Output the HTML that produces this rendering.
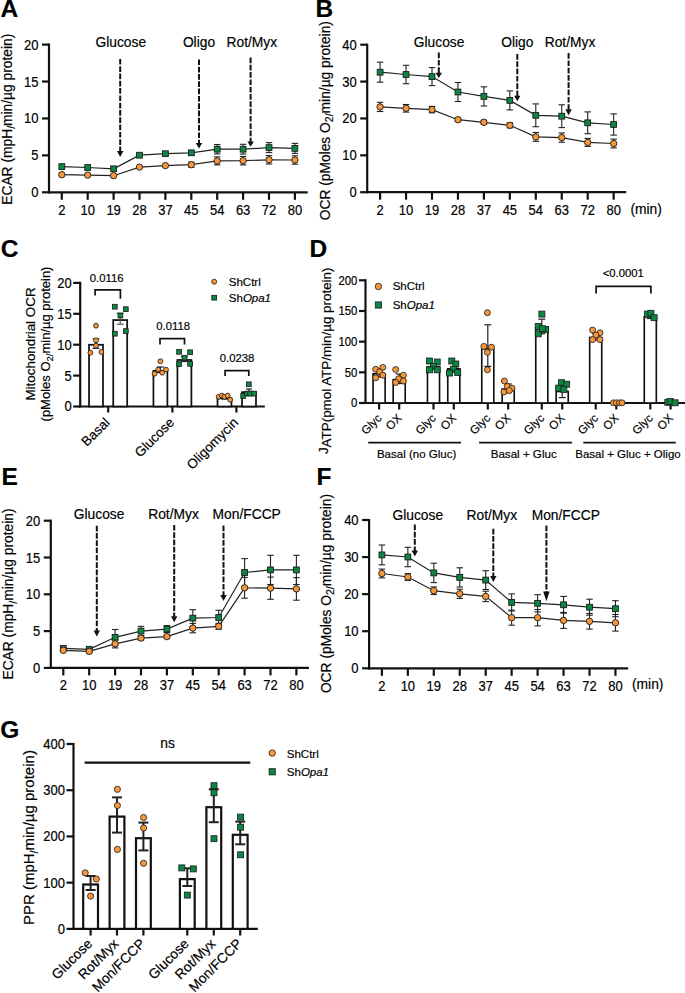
<!DOCTYPE html>
<html><head><meta charset="utf-8"><style>
html,body{margin:0;padding:0;background:#fff;width:685px;height:993px;overflow:hidden}
svg{display:block}
text{font-family:"Liberation Sans", sans-serif;fill:#000;stroke:#000;stroke-width:0.18px}
</style></head><body>
<svg width="685" height="993" viewBox="0 0 685 993">
<rect width="685" height="993" fill="#fff"/>
<text x="0.50" y="17.10" font-size="24.5" text-anchor="start" font-weight="bold">A</text>
<line x1="49.00" y1="43.60" x2="49.00" y2="193.30" stroke="#111" stroke-width="2.2" stroke-linecap="butt"/>
<line x1="42.00" y1="44.60" x2="49.00" y2="44.60" stroke="#111" stroke-width="2.2" stroke-linecap="butt"/>
<text transform="translate(38.50,49.60) scale(1,1.08)" font-size="13" text-anchor="end">20</text>
<line x1="42.00" y1="81.53" x2="49.00" y2="81.53" stroke="#111" stroke-width="2.2" stroke-linecap="butt"/>
<text transform="translate(38.50,86.53) scale(1,1.08)" font-size="13" text-anchor="end">15</text>
<line x1="42.00" y1="118.45" x2="49.00" y2="118.45" stroke="#111" stroke-width="2.2" stroke-linecap="butt"/>
<text transform="translate(38.50,123.45) scale(1,1.08)" font-size="13" text-anchor="end">10</text>
<line x1="42.00" y1="155.38" x2="49.00" y2="155.38" stroke="#111" stroke-width="2.2" stroke-linecap="butt"/>
<text transform="translate(38.50,160.38) scale(1,1.08)" font-size="13" text-anchor="end">5</text>
<line x1="42.00" y1="192.30" x2="49.00" y2="192.30" stroke="#111" stroke-width="2.2" stroke-linecap="butt"/>
<text transform="translate(38.50,197.30) scale(1,1.08)" font-size="13" text-anchor="end">0</text>
<line x1="48.00" y1="192.30" x2="307.70" y2="192.30" stroke="#111" stroke-width="2.2" stroke-linecap="butt"/>
<line x1="61.80" y1="192.30" x2="61.80" y2="199.80" stroke="#111" stroke-width="2.2" stroke-linecap="butt"/>
<text transform="translate(61.80,215.00) scale(1,1.08)" font-size="13" text-anchor="middle">2</text>
<line x1="87.70" y1="192.30" x2="87.70" y2="199.80" stroke="#111" stroke-width="2.2" stroke-linecap="butt"/>
<text transform="translate(87.70,215.00) scale(1,1.08)" font-size="13" text-anchor="middle">10</text>
<line x1="113.60" y1="192.30" x2="113.60" y2="199.80" stroke="#111" stroke-width="2.2" stroke-linecap="butt"/>
<text transform="translate(113.60,215.00) scale(1,1.08)" font-size="13" text-anchor="middle">19</text>
<line x1="139.50" y1="192.30" x2="139.50" y2="199.80" stroke="#111" stroke-width="2.2" stroke-linecap="butt"/>
<text transform="translate(139.50,215.00) scale(1,1.08)" font-size="13" text-anchor="middle">28</text>
<line x1="165.40" y1="192.30" x2="165.40" y2="199.80" stroke="#111" stroke-width="2.2" stroke-linecap="butt"/>
<text transform="translate(165.40,215.00) scale(1,1.08)" font-size="13" text-anchor="middle">37</text>
<line x1="191.30" y1="192.30" x2="191.30" y2="199.80" stroke="#111" stroke-width="2.2" stroke-linecap="butt"/>
<text transform="translate(191.30,215.00) scale(1,1.08)" font-size="13" text-anchor="middle">45</text>
<line x1="217.20" y1="192.30" x2="217.20" y2="199.80" stroke="#111" stroke-width="2.2" stroke-linecap="butt"/>
<text transform="translate(217.20,215.00) scale(1,1.08)" font-size="13" text-anchor="middle">54</text>
<line x1="243.10" y1="192.30" x2="243.10" y2="199.80" stroke="#111" stroke-width="2.2" stroke-linecap="butt"/>
<text transform="translate(243.10,215.00) scale(1,1.08)" font-size="13" text-anchor="middle">63</text>
<line x1="269.00" y1="192.30" x2="269.00" y2="199.80" stroke="#111" stroke-width="2.2" stroke-linecap="butt"/>
<text transform="translate(269.00,215.00) scale(1,1.08)" font-size="13" text-anchor="middle">72</text>
<line x1="294.90" y1="192.30" x2="294.90" y2="199.80" stroke="#111" stroke-width="2.2" stroke-linecap="butt"/>
<text transform="translate(294.90,215.00) scale(1,1.08)" font-size="13" text-anchor="middle">80</text>
<line x1="120.20" y1="58.90" x2="120.20" y2="151.50" stroke="#111" stroke-width="2" stroke-linecap="butt" stroke-dasharray="5.7 1.6"/>
<polygon points="117.00,151.00 123.40,151.00 120.20,157.00" fill="#111"/>
<line x1="199.00" y1="59.40" x2="199.00" y2="143.60" stroke="#111" stroke-width="2" stroke-linecap="butt" stroke-dasharray="5.7 1.6"/>
<polygon points="195.80,143.10 202.20,143.10 199.00,148.60" fill="#111"/>
<line x1="250.60" y1="57.50" x2="250.60" y2="142.10" stroke="#111" stroke-width="2" stroke-linecap="butt" stroke-dasharray="5.7 1.6"/>
<polygon points="247.40,141.60 253.80,141.60 250.60,146.70" fill="#111"/>
<text x="120.80" y="47.10" font-size="13.8" text-anchor="middle">Glucose</text>
<text x="199.00" y="47.10" font-size="13.8" text-anchor="middle">Oligo</text>
<text x="251.80" y="47.10" font-size="13.8" text-anchor="middle">Rot/Myx</text>
<polyline points="61.80,166.60 87.70,167.50 113.60,168.80 139.50,155.20 165.40,153.70 191.30,152.80 217.20,149.20 243.10,149.20 269.00,147.60 294.90,148.40" fill="none" stroke="#222" stroke-width="1.2"/>
<polyline points="61.80,174.70 87.70,175.10 113.60,175.70 139.50,167.10 165.40,165.60 191.30,164.70 217.20,160.90 243.10,160.70 269.00,159.80 294.90,160.00" fill="none" stroke="#222" stroke-width="1.2"/>
<line x1="165.40" y1="152.50" x2="165.40" y2="154.90" stroke="#222" stroke-width="1.1" stroke-linecap="butt"/>
<line x1="162.15" y1="152.50" x2="168.65" y2="152.50" stroke="#222" stroke-width="1.1" stroke-linecap="butt"/>
<line x1="162.15" y1="154.90" x2="168.65" y2="154.90" stroke="#222" stroke-width="1.1" stroke-linecap="butt"/>
<line x1="191.30" y1="150.80" x2="191.30" y2="154.80" stroke="#222" stroke-width="1.1" stroke-linecap="butt"/>
<line x1="188.05" y1="150.80" x2="194.55" y2="150.80" stroke="#222" stroke-width="1.1" stroke-linecap="butt"/>
<line x1="188.05" y1="154.80" x2="194.55" y2="154.80" stroke="#222" stroke-width="1.1" stroke-linecap="butt"/>
<line x1="217.20" y1="144.50" x2="217.20" y2="153.90" stroke="#222" stroke-width="1.1" stroke-linecap="butt"/>
<line x1="213.95" y1="144.50" x2="220.45" y2="144.50" stroke="#222" stroke-width="1.1" stroke-linecap="butt"/>
<line x1="213.95" y1="153.90" x2="220.45" y2="153.90" stroke="#222" stroke-width="1.1" stroke-linecap="butt"/>
<line x1="243.10" y1="144.30" x2="243.10" y2="154.10" stroke="#222" stroke-width="1.1" stroke-linecap="butt"/>
<line x1="239.85" y1="144.30" x2="246.35" y2="144.30" stroke="#222" stroke-width="1.1" stroke-linecap="butt"/>
<line x1="239.85" y1="154.10" x2="246.35" y2="154.10" stroke="#222" stroke-width="1.1" stroke-linecap="butt"/>
<line x1="269.00" y1="142.60" x2="269.00" y2="152.60" stroke="#222" stroke-width="1.1" stroke-linecap="butt"/>
<line x1="265.75" y1="142.60" x2="272.25" y2="142.60" stroke="#222" stroke-width="1.1" stroke-linecap="butt"/>
<line x1="265.75" y1="152.60" x2="272.25" y2="152.60" stroke="#222" stroke-width="1.1" stroke-linecap="butt"/>
<line x1="294.90" y1="143.40" x2="294.90" y2="153.40" stroke="#222" stroke-width="1.1" stroke-linecap="butt"/>
<line x1="291.65" y1="143.40" x2="298.15" y2="143.40" stroke="#222" stroke-width="1.1" stroke-linecap="butt"/>
<line x1="291.65" y1="153.40" x2="298.15" y2="153.40" stroke="#222" stroke-width="1.1" stroke-linecap="butt"/>
<line x1="191.30" y1="162.20" x2="191.30" y2="167.20" stroke="#222" stroke-width="1.1" stroke-linecap="butt"/>
<line x1="188.05" y1="162.20" x2="194.55" y2="162.20" stroke="#222" stroke-width="1.1" stroke-linecap="butt"/>
<line x1="188.05" y1="167.20" x2="194.55" y2="167.20" stroke="#222" stroke-width="1.1" stroke-linecap="butt"/>
<line x1="217.20" y1="156.90" x2="217.20" y2="164.90" stroke="#222" stroke-width="1.1" stroke-linecap="butt"/>
<line x1="213.95" y1="156.90" x2="220.45" y2="156.90" stroke="#222" stroke-width="1.1" stroke-linecap="butt"/>
<line x1="213.95" y1="164.90" x2="220.45" y2="164.90" stroke="#222" stroke-width="1.1" stroke-linecap="butt"/>
<line x1="243.10" y1="156.50" x2="243.10" y2="164.90" stroke="#222" stroke-width="1.1" stroke-linecap="butt"/>
<line x1="239.85" y1="156.50" x2="246.35" y2="156.50" stroke="#222" stroke-width="1.1" stroke-linecap="butt"/>
<line x1="239.85" y1="164.90" x2="246.35" y2="164.90" stroke="#222" stroke-width="1.1" stroke-linecap="butt"/>
<line x1="269.00" y1="155.60" x2="269.00" y2="164.00" stroke="#222" stroke-width="1.1" stroke-linecap="butt"/>
<line x1="265.75" y1="155.60" x2="272.25" y2="155.60" stroke="#222" stroke-width="1.1" stroke-linecap="butt"/>
<line x1="265.75" y1="164.00" x2="272.25" y2="164.00" stroke="#222" stroke-width="1.1" stroke-linecap="butt"/>
<line x1="294.90" y1="155.80" x2="294.90" y2="164.20" stroke="#222" stroke-width="1.1" stroke-linecap="butt"/>
<line x1="291.65" y1="155.80" x2="298.15" y2="155.80" stroke="#222" stroke-width="1.1" stroke-linecap="butt"/>
<line x1="291.65" y1="164.20" x2="298.15" y2="164.20" stroke="#222" stroke-width="1.1" stroke-linecap="butt"/>
<rect x="58.90" y="163.70" width="5.8" height="5.8" fill="#0c8743" stroke="#1a1a1a" stroke-width="0.9"/>
<rect x="84.80" y="164.60" width="5.8" height="5.8" fill="#0c8743" stroke="#1a1a1a" stroke-width="0.9"/>
<rect x="110.70" y="165.90" width="5.8" height="5.8" fill="#0c8743" stroke="#1a1a1a" stroke-width="0.9"/>
<rect x="136.60" y="152.30" width="5.8" height="5.8" fill="#0c8743" stroke="#1a1a1a" stroke-width="0.9"/>
<rect x="162.50" y="150.80" width="5.8" height="5.8" fill="#0c8743" stroke="#1a1a1a" stroke-width="0.9"/>
<rect x="188.40" y="149.90" width="5.8" height="5.8" fill="#0c8743" stroke="#1a1a1a" stroke-width="0.9"/>
<rect x="214.30" y="146.30" width="5.8" height="5.8" fill="#0c8743" stroke="#1a1a1a" stroke-width="0.9"/>
<rect x="240.20" y="146.30" width="5.8" height="5.8" fill="#0c8743" stroke="#1a1a1a" stroke-width="0.9"/>
<rect x="266.10" y="144.70" width="5.8" height="5.8" fill="#0c8743" stroke="#1a1a1a" stroke-width="0.9"/>
<rect x="292.00" y="145.50" width="5.8" height="5.8" fill="#0c8743" stroke="#1a1a1a" stroke-width="0.9"/>
<circle cx="61.80" cy="174.70" r="3.2" fill="#f5973a" stroke="#1a1a1a" stroke-width="0.9"/>
<circle cx="87.70" cy="175.10" r="3.2" fill="#f5973a" stroke="#1a1a1a" stroke-width="0.9"/>
<circle cx="113.60" cy="175.70" r="3.2" fill="#f5973a" stroke="#1a1a1a" stroke-width="0.9"/>
<circle cx="139.50" cy="167.10" r="3.2" fill="#f5973a" stroke="#1a1a1a" stroke-width="0.9"/>
<circle cx="165.40" cy="165.60" r="3.2" fill="#f5973a" stroke="#1a1a1a" stroke-width="0.9"/>
<circle cx="191.30" cy="164.70" r="3.2" fill="#f5973a" stroke="#1a1a1a" stroke-width="0.9"/>
<circle cx="217.20" cy="160.90" r="3.2" fill="#f5973a" stroke="#1a1a1a" stroke-width="0.9"/>
<circle cx="243.10" cy="160.70" r="3.2" fill="#f5973a" stroke="#1a1a1a" stroke-width="0.9"/>
<circle cx="269.00" cy="159.80" r="3.2" fill="#f5973a" stroke="#1a1a1a" stroke-width="0.9"/>
<circle cx="294.90" cy="160.00" r="3.2" fill="#f5973a" stroke="#1a1a1a" stroke-width="0.9"/>
<text transform="translate(11.60,119.20) rotate(-90)" font-size="13.8" text-anchor="middle">ECAR (mpH<tspan dy="3.6" font-size="10.5">/</tspan><tspan dy="-3.6">min/µg protein)</tspan></text>
<text x="315.50" y="17.00" font-size="24.5" text-anchor="start" font-weight="bold">B</text>
<line x1="367.20" y1="43.70" x2="367.20" y2="193.20" stroke="#111" stroke-width="2.2" stroke-linecap="butt"/>
<line x1="360.20" y1="44.70" x2="367.20" y2="44.70" stroke="#111" stroke-width="2.2" stroke-linecap="butt"/>
<text transform="translate(356.70,49.70) scale(1,1.08)" font-size="13" text-anchor="end">40</text>
<line x1="360.20" y1="81.58" x2="367.20" y2="81.58" stroke="#111" stroke-width="2.2" stroke-linecap="butt"/>
<text transform="translate(356.70,86.58) scale(1,1.08)" font-size="13" text-anchor="end">30</text>
<line x1="360.20" y1="118.45" x2="367.20" y2="118.45" stroke="#111" stroke-width="2.2" stroke-linecap="butt"/>
<text transform="translate(356.70,123.45) scale(1,1.08)" font-size="13" text-anchor="end">20</text>
<line x1="360.20" y1="155.32" x2="367.20" y2="155.32" stroke="#111" stroke-width="2.2" stroke-linecap="butt"/>
<text transform="translate(356.70,160.32) scale(1,1.08)" font-size="13" text-anchor="end">10</text>
<line x1="360.20" y1="192.20" x2="367.20" y2="192.20" stroke="#111" stroke-width="2.2" stroke-linecap="butt"/>
<text transform="translate(356.70,197.20) scale(1,1.08)" font-size="13" text-anchor="end">0</text>
<line x1="366.20" y1="192.20" x2="626.20" y2="192.20" stroke="#111" stroke-width="2.2" stroke-linecap="butt"/>
<line x1="380.10" y1="192.20" x2="380.10" y2="199.70" stroke="#111" stroke-width="2.2" stroke-linecap="butt"/>
<text transform="translate(380.10,215.00) scale(1,1.08)" font-size="13" text-anchor="middle">2</text>
<line x1="406.05" y1="192.20" x2="406.05" y2="199.70" stroke="#111" stroke-width="2.2" stroke-linecap="butt"/>
<text transform="translate(406.05,215.00) scale(1,1.08)" font-size="13" text-anchor="middle">10</text>
<line x1="432.00" y1="192.20" x2="432.00" y2="199.70" stroke="#111" stroke-width="2.2" stroke-linecap="butt"/>
<text transform="translate(432.00,215.00) scale(1,1.08)" font-size="13" text-anchor="middle">19</text>
<line x1="457.95" y1="192.20" x2="457.95" y2="199.70" stroke="#111" stroke-width="2.2" stroke-linecap="butt"/>
<text transform="translate(457.95,215.00) scale(1,1.08)" font-size="13" text-anchor="middle">28</text>
<line x1="483.90" y1="192.20" x2="483.90" y2="199.70" stroke="#111" stroke-width="2.2" stroke-linecap="butt"/>
<text transform="translate(483.90,215.00) scale(1,1.08)" font-size="13" text-anchor="middle">37</text>
<line x1="509.85" y1="192.20" x2="509.85" y2="199.70" stroke="#111" stroke-width="2.2" stroke-linecap="butt"/>
<text transform="translate(509.85,215.00) scale(1,1.08)" font-size="13" text-anchor="middle">45</text>
<line x1="535.80" y1="192.20" x2="535.80" y2="199.70" stroke="#111" stroke-width="2.2" stroke-linecap="butt"/>
<text transform="translate(535.80,215.00) scale(1,1.08)" font-size="13" text-anchor="middle">54</text>
<line x1="561.75" y1="192.20" x2="561.75" y2="199.70" stroke="#111" stroke-width="2.2" stroke-linecap="butt"/>
<text transform="translate(561.75,215.00) scale(1,1.08)" font-size="13" text-anchor="middle">63</text>
<line x1="587.70" y1="192.20" x2="587.70" y2="199.70" stroke="#111" stroke-width="2.2" stroke-linecap="butt"/>
<text transform="translate(587.70,215.00) scale(1,1.08)" font-size="13" text-anchor="middle">72</text>
<line x1="613.65" y1="192.20" x2="613.65" y2="199.70" stroke="#111" stroke-width="2.2" stroke-linecap="butt"/>
<text transform="translate(613.65,215.00) scale(1,1.08)" font-size="13" text-anchor="middle">80</text>
<line x1="438.80" y1="52.60" x2="438.80" y2="73.30" stroke="#111" stroke-width="2" stroke-linecap="butt" stroke-dasharray="5.7 1.6"/>
<polygon points="435.60,72.80 442.00,72.80 438.80,78.00" fill="#111"/>
<line x1="517.30" y1="54.00" x2="517.30" y2="96.20" stroke="#111" stroke-width="2" stroke-linecap="butt" stroke-dasharray="5.7 1.6"/>
<polygon points="514.10,95.70 520.50,95.70 517.30,101.30" fill="#111"/>
<line x1="568.60" y1="53.10" x2="568.60" y2="109.70" stroke="#111" stroke-width="2" stroke-linecap="butt" stroke-dasharray="5.7 1.6"/>
<polygon points="565.40,109.20 571.80,109.20 568.60,115.30" fill="#111"/>
<text x="439.10" y="47.30" font-size="13.8" text-anchor="middle">Glucose</text>
<text x="517.30" y="47.30" font-size="13.8" text-anchor="middle">Oligo</text>
<text x="570.00" y="47.30" font-size="13.8" text-anchor="middle">Rot/Myx</text>
<polyline points="380.10,72.20 406.05,74.50 432.00,76.60 457.95,92.00 483.90,96.40 509.85,100.40 535.80,115.30 561.75,116.20 587.70,122.80 613.65,124.50" fill="none" stroke="#222" stroke-width="1.2"/>
<polyline points="380.10,106.90 406.05,108.30 432.00,109.60 457.95,119.70 483.90,122.30 509.85,125.30 535.80,136.90 561.75,137.60 587.70,142.40 613.65,143.50" fill="none" stroke="#222" stroke-width="1.2"/>
<line x1="380.10" y1="62.20" x2="380.10" y2="82.20" stroke="#222" stroke-width="1.1" stroke-linecap="butt"/>
<line x1="376.85" y1="62.20" x2="383.35" y2="62.20" stroke="#222" stroke-width="1.1" stroke-linecap="butt"/>
<line x1="376.85" y1="82.20" x2="383.35" y2="82.20" stroke="#222" stroke-width="1.1" stroke-linecap="butt"/>
<line x1="406.05" y1="65.30" x2="406.05" y2="83.70" stroke="#222" stroke-width="1.1" stroke-linecap="butt"/>
<line x1="402.80" y1="65.30" x2="409.30" y2="65.30" stroke="#222" stroke-width="1.1" stroke-linecap="butt"/>
<line x1="402.80" y1="83.70" x2="409.30" y2="83.70" stroke="#222" stroke-width="1.1" stroke-linecap="butt"/>
<line x1="432.00" y1="67.60" x2="432.00" y2="85.60" stroke="#222" stroke-width="1.1" stroke-linecap="butt"/>
<line x1="428.75" y1="67.60" x2="435.25" y2="67.60" stroke="#222" stroke-width="1.1" stroke-linecap="butt"/>
<line x1="428.75" y1="85.60" x2="435.25" y2="85.60" stroke="#222" stroke-width="1.1" stroke-linecap="butt"/>
<line x1="457.95" y1="82.50" x2="457.95" y2="101.50" stroke="#222" stroke-width="1.1" stroke-linecap="butt"/>
<line x1="454.70" y1="82.50" x2="461.20" y2="82.50" stroke="#222" stroke-width="1.1" stroke-linecap="butt"/>
<line x1="454.70" y1="101.50" x2="461.20" y2="101.50" stroke="#222" stroke-width="1.1" stroke-linecap="butt"/>
<line x1="483.90" y1="86.80" x2="483.90" y2="106.00" stroke="#222" stroke-width="1.1" stroke-linecap="butt"/>
<line x1="480.65" y1="86.80" x2="487.15" y2="86.80" stroke="#222" stroke-width="1.1" stroke-linecap="butt"/>
<line x1="480.65" y1="106.00" x2="487.15" y2="106.00" stroke="#222" stroke-width="1.1" stroke-linecap="butt"/>
<line x1="509.85" y1="90.90" x2="509.85" y2="109.90" stroke="#222" stroke-width="1.1" stroke-linecap="butt"/>
<line x1="506.60" y1="90.90" x2="513.10" y2="90.90" stroke="#222" stroke-width="1.1" stroke-linecap="butt"/>
<line x1="506.60" y1="109.90" x2="513.10" y2="109.90" stroke="#222" stroke-width="1.1" stroke-linecap="butt"/>
<line x1="535.80" y1="103.90" x2="535.80" y2="126.70" stroke="#222" stroke-width="1.1" stroke-linecap="butt"/>
<line x1="532.55" y1="103.90" x2="539.05" y2="103.90" stroke="#222" stroke-width="1.1" stroke-linecap="butt"/>
<line x1="532.55" y1="126.70" x2="539.05" y2="126.70" stroke="#222" stroke-width="1.1" stroke-linecap="butt"/>
<line x1="561.75" y1="104.80" x2="561.75" y2="127.60" stroke="#222" stroke-width="1.1" stroke-linecap="butt"/>
<line x1="558.50" y1="104.80" x2="565.00" y2="104.80" stroke="#222" stroke-width="1.1" stroke-linecap="butt"/>
<line x1="558.50" y1="127.60" x2="565.00" y2="127.60" stroke="#222" stroke-width="1.1" stroke-linecap="butt"/>
<line x1="587.70" y1="111.90" x2="587.70" y2="133.70" stroke="#222" stroke-width="1.1" stroke-linecap="butt"/>
<line x1="584.45" y1="111.90" x2="590.95" y2="111.90" stroke="#222" stroke-width="1.1" stroke-linecap="butt"/>
<line x1="584.45" y1="133.70" x2="590.95" y2="133.70" stroke="#222" stroke-width="1.1" stroke-linecap="butt"/>
<line x1="613.65" y1="113.90" x2="613.65" y2="135.10" stroke="#222" stroke-width="1.1" stroke-linecap="butt"/>
<line x1="610.40" y1="113.90" x2="616.90" y2="113.90" stroke="#222" stroke-width="1.1" stroke-linecap="butt"/>
<line x1="610.40" y1="135.10" x2="616.90" y2="135.10" stroke="#222" stroke-width="1.1" stroke-linecap="butt"/>
<line x1="380.10" y1="102.30" x2="380.10" y2="111.50" stroke="#222" stroke-width="1.1" stroke-linecap="butt"/>
<line x1="376.85" y1="102.30" x2="383.35" y2="102.30" stroke="#222" stroke-width="1.1" stroke-linecap="butt"/>
<line x1="376.85" y1="111.50" x2="383.35" y2="111.50" stroke="#222" stroke-width="1.1" stroke-linecap="butt"/>
<line x1="406.05" y1="104.50" x2="406.05" y2="112.10" stroke="#222" stroke-width="1.1" stroke-linecap="butt"/>
<line x1="402.80" y1="104.50" x2="409.30" y2="104.50" stroke="#222" stroke-width="1.1" stroke-linecap="butt"/>
<line x1="402.80" y1="112.10" x2="409.30" y2="112.10" stroke="#222" stroke-width="1.1" stroke-linecap="butt"/>
<line x1="432.00" y1="106.40" x2="432.00" y2="112.80" stroke="#222" stroke-width="1.1" stroke-linecap="butt"/>
<line x1="428.75" y1="106.40" x2="435.25" y2="106.40" stroke="#222" stroke-width="1.1" stroke-linecap="butt"/>
<line x1="428.75" y1="112.80" x2="435.25" y2="112.80" stroke="#222" stroke-width="1.1" stroke-linecap="butt"/>
<line x1="457.95" y1="118.20" x2="457.95" y2="121.20" stroke="#222" stroke-width="1.1" stroke-linecap="butt"/>
<line x1="454.70" y1="118.20" x2="461.20" y2="118.20" stroke="#222" stroke-width="1.1" stroke-linecap="butt"/>
<line x1="454.70" y1="121.20" x2="461.20" y2="121.20" stroke="#222" stroke-width="1.1" stroke-linecap="butt"/>
<line x1="483.90" y1="120.30" x2="483.90" y2="124.30" stroke="#222" stroke-width="1.1" stroke-linecap="butt"/>
<line x1="480.65" y1="120.30" x2="487.15" y2="120.30" stroke="#222" stroke-width="1.1" stroke-linecap="butt"/>
<line x1="480.65" y1="124.30" x2="487.15" y2="124.30" stroke="#222" stroke-width="1.1" stroke-linecap="butt"/>
<line x1="509.85" y1="122.80" x2="509.85" y2="127.80" stroke="#222" stroke-width="1.1" stroke-linecap="butt"/>
<line x1="506.60" y1="122.80" x2="513.10" y2="122.80" stroke="#222" stroke-width="1.1" stroke-linecap="butt"/>
<line x1="506.60" y1="127.80" x2="513.10" y2="127.80" stroke="#222" stroke-width="1.1" stroke-linecap="butt"/>
<line x1="535.80" y1="132.50" x2="535.80" y2="141.30" stroke="#222" stroke-width="1.1" stroke-linecap="butt"/>
<line x1="532.55" y1="132.50" x2="539.05" y2="132.50" stroke="#222" stroke-width="1.1" stroke-linecap="butt"/>
<line x1="532.55" y1="141.30" x2="539.05" y2="141.30" stroke="#222" stroke-width="1.1" stroke-linecap="butt"/>
<line x1="561.75" y1="133.00" x2="561.75" y2="142.20" stroke="#222" stroke-width="1.1" stroke-linecap="butt"/>
<line x1="558.50" y1="133.00" x2="565.00" y2="133.00" stroke="#222" stroke-width="1.1" stroke-linecap="butt"/>
<line x1="558.50" y1="142.20" x2="565.00" y2="142.20" stroke="#222" stroke-width="1.1" stroke-linecap="butt"/>
<line x1="587.70" y1="138.40" x2="587.70" y2="146.40" stroke="#222" stroke-width="1.1" stroke-linecap="butt"/>
<line x1="584.45" y1="138.40" x2="590.95" y2="138.40" stroke="#222" stroke-width="1.1" stroke-linecap="butt"/>
<line x1="584.45" y1="146.40" x2="590.95" y2="146.40" stroke="#222" stroke-width="1.1" stroke-linecap="butt"/>
<line x1="613.65" y1="139.10" x2="613.65" y2="147.90" stroke="#222" stroke-width="1.1" stroke-linecap="butt"/>
<line x1="610.40" y1="139.10" x2="616.90" y2="139.10" stroke="#222" stroke-width="1.1" stroke-linecap="butt"/>
<line x1="610.40" y1="147.90" x2="616.90" y2="147.90" stroke="#222" stroke-width="1.1" stroke-linecap="butt"/>
<rect x="377.20" y="69.30" width="5.8" height="5.8" fill="#0c8743" stroke="#1a1a1a" stroke-width="0.9"/>
<rect x="403.15" y="71.60" width="5.8" height="5.8" fill="#0c8743" stroke="#1a1a1a" stroke-width="0.9"/>
<rect x="429.10" y="73.70" width="5.8" height="5.8" fill="#0c8743" stroke="#1a1a1a" stroke-width="0.9"/>
<rect x="455.05" y="89.10" width="5.8" height="5.8" fill="#0c8743" stroke="#1a1a1a" stroke-width="0.9"/>
<rect x="481.00" y="93.50" width="5.8" height="5.8" fill="#0c8743" stroke="#1a1a1a" stroke-width="0.9"/>
<rect x="506.95" y="97.50" width="5.8" height="5.8" fill="#0c8743" stroke="#1a1a1a" stroke-width="0.9"/>
<rect x="532.90" y="112.40" width="5.8" height="5.8" fill="#0c8743" stroke="#1a1a1a" stroke-width="0.9"/>
<rect x="558.85" y="113.30" width="5.8" height="5.8" fill="#0c8743" stroke="#1a1a1a" stroke-width="0.9"/>
<rect x="584.80" y="119.90" width="5.8" height="5.8" fill="#0c8743" stroke="#1a1a1a" stroke-width="0.9"/>
<rect x="610.75" y="121.60" width="5.8" height="5.8" fill="#0c8743" stroke="#1a1a1a" stroke-width="0.9"/>
<circle cx="380.10" cy="106.90" r="3.2" fill="#f5973a" stroke="#1a1a1a" stroke-width="0.9"/>
<circle cx="406.05" cy="108.30" r="3.2" fill="#f5973a" stroke="#1a1a1a" stroke-width="0.9"/>
<circle cx="432.00" cy="109.60" r="3.2" fill="#f5973a" stroke="#1a1a1a" stroke-width="0.9"/>
<circle cx="457.95" cy="119.70" r="3.2" fill="#f5973a" stroke="#1a1a1a" stroke-width="0.9"/>
<circle cx="483.90" cy="122.30" r="3.2" fill="#f5973a" stroke="#1a1a1a" stroke-width="0.9"/>
<circle cx="509.85" cy="125.30" r="3.2" fill="#f5973a" stroke="#1a1a1a" stroke-width="0.9"/>
<circle cx="535.80" cy="136.90" r="3.2" fill="#f5973a" stroke="#1a1a1a" stroke-width="0.9"/>
<circle cx="561.75" cy="137.60" r="3.2" fill="#f5973a" stroke="#1a1a1a" stroke-width="0.9"/>
<circle cx="587.70" cy="142.40" r="3.2" fill="#f5973a" stroke="#1a1a1a" stroke-width="0.9"/>
<circle cx="613.65" cy="143.50" r="3.2" fill="#f5973a" stroke="#1a1a1a" stroke-width="0.9"/>
<text x="630.40" y="213.70" font-size="13.8" text-anchor="start">(min)</text>
<text transform="translate(329.50,120.70) rotate(-90)" font-size="13.8" text-anchor="middle">OCR (pMoles O<tspan dy="3" font-size="10.5">2/</tspan><tspan dy="-3">min/µg protein)</tspan></text>
<text x="1.50" y="485.10" font-size="24.5" text-anchor="start" font-weight="bold">E</text>
<line x1="50.80" y1="519.70" x2="50.80" y2="668.90" stroke="#111" stroke-width="2.2" stroke-linecap="butt"/>
<line x1="43.80" y1="520.70" x2="50.80" y2="520.70" stroke="#111" stroke-width="2.2" stroke-linecap="butt"/>
<text transform="translate(40.30,525.70) scale(1,1.08)" font-size="13" text-anchor="end">20</text>
<line x1="43.80" y1="557.50" x2="50.80" y2="557.50" stroke="#111" stroke-width="2.2" stroke-linecap="butt"/>
<text transform="translate(40.30,562.50) scale(1,1.08)" font-size="13" text-anchor="end">15</text>
<line x1="43.80" y1="594.30" x2="50.80" y2="594.30" stroke="#111" stroke-width="2.2" stroke-linecap="butt"/>
<text transform="translate(40.30,599.30) scale(1,1.08)" font-size="13" text-anchor="end">10</text>
<line x1="43.80" y1="631.10" x2="50.80" y2="631.10" stroke="#111" stroke-width="2.2" stroke-linecap="butt"/>
<text transform="translate(40.30,636.10) scale(1,1.08)" font-size="13" text-anchor="end">5</text>
<line x1="43.80" y1="667.90" x2="50.80" y2="667.90" stroke="#111" stroke-width="2.2" stroke-linecap="butt"/>
<text transform="translate(40.30,672.90) scale(1,1.08)" font-size="13" text-anchor="end">0</text>
<line x1="49.80" y1="667.90" x2="308.90" y2="667.90" stroke="#111" stroke-width="2.2" stroke-linecap="butt"/>
<line x1="63.30" y1="667.90" x2="63.30" y2="675.40" stroke="#111" stroke-width="2.2" stroke-linecap="butt"/>
<text transform="translate(63.30,690.40) scale(1,1.08)" font-size="13" text-anchor="middle">2</text>
<line x1="89.20" y1="667.90" x2="89.20" y2="675.40" stroke="#111" stroke-width="2.2" stroke-linecap="butt"/>
<text transform="translate(89.20,690.40) scale(1,1.08)" font-size="13" text-anchor="middle">10</text>
<line x1="115.10" y1="667.90" x2="115.10" y2="675.40" stroke="#111" stroke-width="2.2" stroke-linecap="butt"/>
<text transform="translate(115.10,690.40) scale(1,1.08)" font-size="13" text-anchor="middle">19</text>
<line x1="141.00" y1="667.90" x2="141.00" y2="675.40" stroke="#111" stroke-width="2.2" stroke-linecap="butt"/>
<text transform="translate(141.00,690.40) scale(1,1.08)" font-size="13" text-anchor="middle">28</text>
<line x1="166.90" y1="667.90" x2="166.90" y2="675.40" stroke="#111" stroke-width="2.2" stroke-linecap="butt"/>
<text transform="translate(166.90,690.40) scale(1,1.08)" font-size="13" text-anchor="middle">37</text>
<line x1="192.80" y1="667.90" x2="192.80" y2="675.40" stroke="#111" stroke-width="2.2" stroke-linecap="butt"/>
<text transform="translate(192.80,690.40) scale(1,1.08)" font-size="13" text-anchor="middle">45</text>
<line x1="218.70" y1="667.90" x2="218.70" y2="675.40" stroke="#111" stroke-width="2.2" stroke-linecap="butt"/>
<text transform="translate(218.70,690.40) scale(1,1.08)" font-size="13" text-anchor="middle">54</text>
<line x1="244.60" y1="667.90" x2="244.60" y2="675.40" stroke="#111" stroke-width="2.2" stroke-linecap="butt"/>
<text transform="translate(244.60,690.40) scale(1,1.08)" font-size="13" text-anchor="middle">63</text>
<line x1="270.50" y1="667.90" x2="270.50" y2="675.40" stroke="#111" stroke-width="2.2" stroke-linecap="butt"/>
<text transform="translate(270.50,690.40) scale(1,1.08)" font-size="13" text-anchor="middle">72</text>
<line x1="296.40" y1="667.90" x2="296.40" y2="675.40" stroke="#111" stroke-width="2.2" stroke-linecap="butt"/>
<text transform="translate(296.40,690.40) scale(1,1.08)" font-size="13" text-anchor="middle">80</text>
<line x1="96.80" y1="525.70" x2="96.80" y2="631.00" stroke="#111" stroke-width="2" stroke-linecap="butt" stroke-dasharray="5.7 1.6"/>
<polygon points="93.60,630.50 100.00,630.50 96.80,636.60" fill="#111"/>
<line x1="174.20" y1="524.90" x2="174.20" y2="616.70" stroke="#111" stroke-width="2" stroke-linecap="butt" stroke-dasharray="5.7 1.6"/>
<polygon points="171.00,616.20 177.40,616.20 174.20,622.30" fill="#111"/>
<line x1="223.50" y1="525.50" x2="223.50" y2="595.50" stroke="#111" stroke-width="2" stroke-linecap="butt" stroke-dasharray="5.7 1.6"/>
<polygon points="220.30,595.00 226.70,595.00 223.50,601.10" fill="#111"/>
<text x="99.10" y="519.30" font-size="13.8" text-anchor="middle">Glucose</text>
<text x="173.50" y="519.30" font-size="13.8" text-anchor="middle">Rot/Myx</text>
<text x="246.70" y="519.30" font-size="13.8" text-anchor="middle">Mon/FCCP</text>
<polyline points="63.30,648.30 89.20,649.30 115.10,637.30 141.00,631.10 166.90,629.10 192.80,618.10 218.70,617.50 244.60,572.50 270.50,569.90 296.40,569.90" fill="none" stroke="#222" stroke-width="1.2"/>
<polyline points="63.30,650.30 89.20,651.40 115.10,643.80 141.00,638.10 166.90,636.60 192.80,628.10 218.70,626.30 244.60,587.80 270.50,588.20 296.40,588.90" fill="none" stroke="#222" stroke-width="1.2"/>
<line x1="63.30" y1="647.30" x2="63.30" y2="649.30" stroke="#222" stroke-width="1.1" stroke-linecap="butt"/>
<line x1="60.05" y1="647.30" x2="66.55" y2="647.30" stroke="#222" stroke-width="1.1" stroke-linecap="butt"/>
<line x1="60.05" y1="649.30" x2="66.55" y2="649.30" stroke="#222" stroke-width="1.1" stroke-linecap="butt"/>
<line x1="89.20" y1="648.30" x2="89.20" y2="650.30" stroke="#222" stroke-width="1.1" stroke-linecap="butt"/>
<line x1="85.95" y1="648.30" x2="92.45" y2="648.30" stroke="#222" stroke-width="1.1" stroke-linecap="butt"/>
<line x1="85.95" y1="650.30" x2="92.45" y2="650.30" stroke="#222" stroke-width="1.1" stroke-linecap="butt"/>
<line x1="115.10" y1="629.50" x2="115.10" y2="645.10" stroke="#222" stroke-width="1.1" stroke-linecap="butt"/>
<line x1="111.85" y1="629.50" x2="118.35" y2="629.50" stroke="#222" stroke-width="1.1" stroke-linecap="butt"/>
<line x1="111.85" y1="645.10" x2="118.35" y2="645.10" stroke="#222" stroke-width="1.1" stroke-linecap="butt"/>
<line x1="141.00" y1="626.40" x2="141.00" y2="635.80" stroke="#222" stroke-width="1.1" stroke-linecap="butt"/>
<line x1="137.75" y1="626.40" x2="144.25" y2="626.40" stroke="#222" stroke-width="1.1" stroke-linecap="butt"/>
<line x1="137.75" y1="635.80" x2="144.25" y2="635.80" stroke="#222" stroke-width="1.1" stroke-linecap="butt"/>
<line x1="166.90" y1="625.60" x2="166.90" y2="632.60" stroke="#222" stroke-width="1.1" stroke-linecap="butt"/>
<line x1="163.65" y1="625.60" x2="170.15" y2="625.60" stroke="#222" stroke-width="1.1" stroke-linecap="butt"/>
<line x1="163.65" y1="632.60" x2="170.15" y2="632.60" stroke="#222" stroke-width="1.1" stroke-linecap="butt"/>
<line x1="192.80" y1="609.70" x2="192.80" y2="626.50" stroke="#222" stroke-width="1.1" stroke-linecap="butt"/>
<line x1="189.55" y1="609.70" x2="196.05" y2="609.70" stroke="#222" stroke-width="1.1" stroke-linecap="butt"/>
<line x1="189.55" y1="626.50" x2="196.05" y2="626.50" stroke="#222" stroke-width="1.1" stroke-linecap="butt"/>
<line x1="218.70" y1="610.30" x2="218.70" y2="624.70" stroke="#222" stroke-width="1.1" stroke-linecap="butt"/>
<line x1="215.45" y1="610.30" x2="221.95" y2="610.30" stroke="#222" stroke-width="1.1" stroke-linecap="butt"/>
<line x1="215.45" y1="624.70" x2="221.95" y2="624.70" stroke="#222" stroke-width="1.1" stroke-linecap="butt"/>
<line x1="244.60" y1="558.60" x2="244.60" y2="586.40" stroke="#222" stroke-width="1.1" stroke-linecap="butt"/>
<line x1="241.35" y1="558.60" x2="247.85" y2="558.60" stroke="#222" stroke-width="1.1" stroke-linecap="butt"/>
<line x1="241.35" y1="586.40" x2="247.85" y2="586.40" stroke="#222" stroke-width="1.1" stroke-linecap="butt"/>
<line x1="270.50" y1="555.30" x2="270.50" y2="584.50" stroke="#222" stroke-width="1.1" stroke-linecap="butt"/>
<line x1="267.25" y1="555.30" x2="273.75" y2="555.30" stroke="#222" stroke-width="1.1" stroke-linecap="butt"/>
<line x1="267.25" y1="584.50" x2="273.75" y2="584.50" stroke="#222" stroke-width="1.1" stroke-linecap="butt"/>
<line x1="296.40" y1="555.30" x2="296.40" y2="584.50" stroke="#222" stroke-width="1.1" stroke-linecap="butt"/>
<line x1="293.15" y1="555.30" x2="299.65" y2="555.30" stroke="#222" stroke-width="1.1" stroke-linecap="butt"/>
<line x1="293.15" y1="584.50" x2="299.65" y2="584.50" stroke="#222" stroke-width="1.1" stroke-linecap="butt"/>
<line x1="63.30" y1="649.30" x2="63.30" y2="651.30" stroke="#222" stroke-width="1.1" stroke-linecap="butt"/>
<line x1="60.05" y1="649.30" x2="66.55" y2="649.30" stroke="#222" stroke-width="1.1" stroke-linecap="butt"/>
<line x1="60.05" y1="651.30" x2="66.55" y2="651.30" stroke="#222" stroke-width="1.1" stroke-linecap="butt"/>
<line x1="89.20" y1="650.40" x2="89.20" y2="652.40" stroke="#222" stroke-width="1.1" stroke-linecap="butt"/>
<line x1="85.95" y1="650.40" x2="92.45" y2="650.40" stroke="#222" stroke-width="1.1" stroke-linecap="butt"/>
<line x1="85.95" y1="652.40" x2="92.45" y2="652.40" stroke="#222" stroke-width="1.1" stroke-linecap="butt"/>
<line x1="115.10" y1="639.70" x2="115.10" y2="647.90" stroke="#222" stroke-width="1.1" stroke-linecap="butt"/>
<line x1="111.85" y1="639.70" x2="118.35" y2="639.70" stroke="#222" stroke-width="1.1" stroke-linecap="butt"/>
<line x1="111.85" y1="647.90" x2="118.35" y2="647.90" stroke="#222" stroke-width="1.1" stroke-linecap="butt"/>
<line x1="141.00" y1="636.10" x2="141.00" y2="640.10" stroke="#222" stroke-width="1.1" stroke-linecap="butt"/>
<line x1="137.75" y1="636.10" x2="144.25" y2="636.10" stroke="#222" stroke-width="1.1" stroke-linecap="butt"/>
<line x1="137.75" y1="640.10" x2="144.25" y2="640.10" stroke="#222" stroke-width="1.1" stroke-linecap="butt"/>
<line x1="166.90" y1="635.10" x2="166.90" y2="638.10" stroke="#222" stroke-width="1.1" stroke-linecap="butt"/>
<line x1="163.65" y1="635.10" x2="170.15" y2="635.10" stroke="#222" stroke-width="1.1" stroke-linecap="butt"/>
<line x1="163.65" y1="638.10" x2="170.15" y2="638.10" stroke="#222" stroke-width="1.1" stroke-linecap="butt"/>
<line x1="192.80" y1="623.40" x2="192.80" y2="632.80" stroke="#222" stroke-width="1.1" stroke-linecap="butt"/>
<line x1="189.55" y1="623.40" x2="196.05" y2="623.40" stroke="#222" stroke-width="1.1" stroke-linecap="butt"/>
<line x1="189.55" y1="632.80" x2="196.05" y2="632.80" stroke="#222" stroke-width="1.1" stroke-linecap="butt"/>
<line x1="218.70" y1="623.30" x2="218.70" y2="629.30" stroke="#222" stroke-width="1.1" stroke-linecap="butt"/>
<line x1="215.45" y1="623.30" x2="221.95" y2="623.30" stroke="#222" stroke-width="1.1" stroke-linecap="butt"/>
<line x1="215.45" y1="629.30" x2="221.95" y2="629.30" stroke="#222" stroke-width="1.1" stroke-linecap="butt"/>
<line x1="244.60" y1="577.40" x2="244.60" y2="598.20" stroke="#222" stroke-width="1.1" stroke-linecap="butt"/>
<line x1="241.35" y1="577.40" x2="247.85" y2="577.40" stroke="#222" stroke-width="1.1" stroke-linecap="butt"/>
<line x1="241.35" y1="598.20" x2="247.85" y2="598.20" stroke="#222" stroke-width="1.1" stroke-linecap="butt"/>
<line x1="270.50" y1="577.10" x2="270.50" y2="599.30" stroke="#222" stroke-width="1.1" stroke-linecap="butt"/>
<line x1="267.25" y1="577.10" x2="273.75" y2="577.10" stroke="#222" stroke-width="1.1" stroke-linecap="butt"/>
<line x1="267.25" y1="599.30" x2="273.75" y2="599.30" stroke="#222" stroke-width="1.1" stroke-linecap="butt"/>
<line x1="296.40" y1="577.60" x2="296.40" y2="600.20" stroke="#222" stroke-width="1.1" stroke-linecap="butt"/>
<line x1="293.15" y1="577.60" x2="299.65" y2="577.60" stroke="#222" stroke-width="1.1" stroke-linecap="butt"/>
<line x1="293.15" y1="600.20" x2="299.65" y2="600.20" stroke="#222" stroke-width="1.1" stroke-linecap="butt"/>
<rect x="60.40" y="645.40" width="5.8" height="5.8" fill="#0c8743" stroke="#1a1a1a" stroke-width="0.9"/>
<rect x="86.30" y="646.40" width="5.8" height="5.8" fill="#0c8743" stroke="#1a1a1a" stroke-width="0.9"/>
<rect x="112.20" y="634.40" width="5.8" height="5.8" fill="#0c8743" stroke="#1a1a1a" stroke-width="0.9"/>
<rect x="138.10" y="628.20" width="5.8" height="5.8" fill="#0c8743" stroke="#1a1a1a" stroke-width="0.9"/>
<rect x="164.00" y="626.20" width="5.8" height="5.8" fill="#0c8743" stroke="#1a1a1a" stroke-width="0.9"/>
<rect x="189.90" y="615.20" width="5.8" height="5.8" fill="#0c8743" stroke="#1a1a1a" stroke-width="0.9"/>
<rect x="215.80" y="614.60" width="5.8" height="5.8" fill="#0c8743" stroke="#1a1a1a" stroke-width="0.9"/>
<rect x="241.70" y="569.60" width="5.8" height="5.8" fill="#0c8743" stroke="#1a1a1a" stroke-width="0.9"/>
<rect x="267.60" y="567.00" width="5.8" height="5.8" fill="#0c8743" stroke="#1a1a1a" stroke-width="0.9"/>
<rect x="293.50" y="567.00" width="5.8" height="5.8" fill="#0c8743" stroke="#1a1a1a" stroke-width="0.9"/>
<circle cx="63.30" cy="650.30" r="3.2" fill="#f5973a" stroke="#1a1a1a" stroke-width="0.9"/>
<circle cx="89.20" cy="651.40" r="3.2" fill="#f5973a" stroke="#1a1a1a" stroke-width="0.9"/>
<circle cx="115.10" cy="643.80" r="3.2" fill="#f5973a" stroke="#1a1a1a" stroke-width="0.9"/>
<circle cx="141.00" cy="638.10" r="3.2" fill="#f5973a" stroke="#1a1a1a" stroke-width="0.9"/>
<circle cx="166.90" cy="636.60" r="3.2" fill="#f5973a" stroke="#1a1a1a" stroke-width="0.9"/>
<circle cx="192.80" cy="628.10" r="3.2" fill="#f5973a" stroke="#1a1a1a" stroke-width="0.9"/>
<circle cx="218.70" cy="626.30" r="3.2" fill="#f5973a" stroke="#1a1a1a" stroke-width="0.9"/>
<circle cx="244.60" cy="587.80" r="3.2" fill="#f5973a" stroke="#1a1a1a" stroke-width="0.9"/>
<circle cx="270.50" cy="588.20" r="3.2" fill="#f5973a" stroke="#1a1a1a" stroke-width="0.9"/>
<circle cx="296.40" cy="588.90" r="3.2" fill="#f5973a" stroke="#1a1a1a" stroke-width="0.9"/>
<text transform="translate(13.00,594.00) rotate(-90)" font-size="13.8" text-anchor="middle">ECAR (mpH<tspan dy="3.6" font-size="10.5">/</tspan><tspan dy="-3.6">min/µg protein)</tspan></text>
<text x="316.50" y="484.80" font-size="24.5" text-anchor="start" font-weight="bold">F</text>
<line x1="369.10" y1="519.00" x2="369.10" y2="669.30" stroke="#111" stroke-width="2.2" stroke-linecap="butt"/>
<line x1="362.10" y1="520.00" x2="369.10" y2="520.00" stroke="#111" stroke-width="2.2" stroke-linecap="butt"/>
<text transform="translate(358.60,525.00) scale(1,1.08)" font-size="13" text-anchor="end">40</text>
<line x1="362.10" y1="557.08" x2="369.10" y2="557.08" stroke="#111" stroke-width="2.2" stroke-linecap="butt"/>
<text transform="translate(358.60,562.08) scale(1,1.08)" font-size="13" text-anchor="end">30</text>
<line x1="362.10" y1="594.15" x2="369.10" y2="594.15" stroke="#111" stroke-width="2.2" stroke-linecap="butt"/>
<text transform="translate(358.60,599.15) scale(1,1.08)" font-size="13" text-anchor="end">20</text>
<line x1="362.10" y1="631.22" x2="369.10" y2="631.22" stroke="#111" stroke-width="2.2" stroke-linecap="butt"/>
<text transform="translate(358.60,636.22) scale(1,1.08)" font-size="13" text-anchor="end">10</text>
<line x1="362.10" y1="668.30" x2="369.10" y2="668.30" stroke="#111" stroke-width="2.2" stroke-linecap="butt"/>
<text transform="translate(358.60,673.30) scale(1,1.08)" font-size="13" text-anchor="end">0</text>
<line x1="368.10" y1="668.30" x2="628.20" y2="668.30" stroke="#111" stroke-width="2.2" stroke-linecap="butt"/>
<line x1="381.90" y1="668.30" x2="381.90" y2="675.80" stroke="#111" stroke-width="2.2" stroke-linecap="butt"/>
<text transform="translate(381.90,690.80) scale(1,1.08)" font-size="13" text-anchor="middle">2</text>
<line x1="407.85" y1="668.30" x2="407.85" y2="675.80" stroke="#111" stroke-width="2.2" stroke-linecap="butt"/>
<text transform="translate(407.85,690.80) scale(1,1.08)" font-size="13" text-anchor="middle">10</text>
<line x1="433.80" y1="668.30" x2="433.80" y2="675.80" stroke="#111" stroke-width="2.2" stroke-linecap="butt"/>
<text transform="translate(433.80,690.80) scale(1,1.08)" font-size="13" text-anchor="middle">19</text>
<line x1="459.75" y1="668.30" x2="459.75" y2="675.80" stroke="#111" stroke-width="2.2" stroke-linecap="butt"/>
<text transform="translate(459.75,690.80) scale(1,1.08)" font-size="13" text-anchor="middle">28</text>
<line x1="485.70" y1="668.30" x2="485.70" y2="675.80" stroke="#111" stroke-width="2.2" stroke-linecap="butt"/>
<text transform="translate(485.70,690.80) scale(1,1.08)" font-size="13" text-anchor="middle">37</text>
<line x1="511.65" y1="668.30" x2="511.65" y2="675.80" stroke="#111" stroke-width="2.2" stroke-linecap="butt"/>
<text transform="translate(511.65,690.80) scale(1,1.08)" font-size="13" text-anchor="middle">45</text>
<line x1="537.60" y1="668.30" x2="537.60" y2="675.80" stroke="#111" stroke-width="2.2" stroke-linecap="butt"/>
<text transform="translate(537.60,690.80) scale(1,1.08)" font-size="13" text-anchor="middle">54</text>
<line x1="563.55" y1="668.30" x2="563.55" y2="675.80" stroke="#111" stroke-width="2.2" stroke-linecap="butt"/>
<text transform="translate(563.55,690.80) scale(1,1.08)" font-size="13" text-anchor="middle">63</text>
<line x1="589.50" y1="668.30" x2="589.50" y2="675.80" stroke="#111" stroke-width="2.2" stroke-linecap="butt"/>
<text transform="translate(589.50,690.80) scale(1,1.08)" font-size="13" text-anchor="middle">72</text>
<line x1="615.45" y1="668.30" x2="615.45" y2="675.80" stroke="#111" stroke-width="2.2" stroke-linecap="butt"/>
<text transform="translate(615.45,690.80) scale(1,1.08)" font-size="13" text-anchor="middle">80</text>
<line x1="414.80" y1="524.50" x2="414.80" y2="550.90" stroke="#111" stroke-width="2" stroke-linecap="butt" stroke-dasharray="5.7 1.6"/>
<polygon points="411.60,550.40 418.00,550.40 414.80,556.60" fill="#111"/>
<line x1="493.30" y1="528.70" x2="493.30" y2="576.50" stroke="#111" stroke-width="2" stroke-linecap="butt" stroke-dasharray="5.7 1.6"/>
<polygon points="490.10,576.00 496.50,576.00 493.30,582.10" fill="#111"/>
<line x1="546.40" y1="525.50" x2="546.40" y2="591.90" stroke="#111" stroke-width="2" stroke-linecap="butt" stroke-dasharray="5.7 1.6"/>
<polygon points="543.20,591.40 549.60,591.40 546.40,601.20" fill="#111"/>
<text x="417.80" y="519.50" font-size="13.8" text-anchor="middle">Glucose</text>
<text x="491.80" y="519.50" font-size="13.8" text-anchor="middle">Rot/Myx</text>
<text x="565.80" y="519.50" font-size="13.8" text-anchor="middle">Mon/FCCP</text>
<polyline points="381.90,554.90 407.85,557.00 433.80,572.90 459.75,577.40 485.70,580.10 511.65,602.40 537.60,603.30 563.55,604.80 589.50,607.20 615.45,608.70" fill="none" stroke="#222" stroke-width="1.2"/>
<polyline points="381.90,573.50 407.85,577.00 433.80,590.70 459.75,593.80 485.70,596.40 511.65,617.70 537.60,617.70 563.55,620.40 589.50,621.30 615.45,622.80" fill="none" stroke="#222" stroke-width="1.2"/>
<line x1="381.90" y1="545.00" x2="381.90" y2="564.80" stroke="#222" stroke-width="1.1" stroke-linecap="butt"/>
<line x1="378.65" y1="545.00" x2="385.15" y2="545.00" stroke="#222" stroke-width="1.1" stroke-linecap="butt"/>
<line x1="378.65" y1="564.80" x2="385.15" y2="564.80" stroke="#222" stroke-width="1.1" stroke-linecap="butt"/>
<line x1="407.85" y1="547.30" x2="407.85" y2="566.70" stroke="#222" stroke-width="1.1" stroke-linecap="butt"/>
<line x1="404.60" y1="547.30" x2="411.10" y2="547.30" stroke="#222" stroke-width="1.1" stroke-linecap="butt"/>
<line x1="404.60" y1="566.70" x2="411.10" y2="566.70" stroke="#222" stroke-width="1.1" stroke-linecap="butt"/>
<line x1="433.80" y1="563.20" x2="433.80" y2="582.60" stroke="#222" stroke-width="1.1" stroke-linecap="butt"/>
<line x1="430.55" y1="563.20" x2="437.05" y2="563.20" stroke="#222" stroke-width="1.1" stroke-linecap="butt"/>
<line x1="430.55" y1="582.60" x2="437.05" y2="582.60" stroke="#222" stroke-width="1.1" stroke-linecap="butt"/>
<line x1="459.75" y1="567.80" x2="459.75" y2="587.00" stroke="#222" stroke-width="1.1" stroke-linecap="butt"/>
<line x1="456.50" y1="567.80" x2="463.00" y2="567.80" stroke="#222" stroke-width="1.1" stroke-linecap="butt"/>
<line x1="456.50" y1="587.00" x2="463.00" y2="587.00" stroke="#222" stroke-width="1.1" stroke-linecap="butt"/>
<line x1="485.70" y1="570.70" x2="485.70" y2="589.50" stroke="#222" stroke-width="1.1" stroke-linecap="butt"/>
<line x1="482.45" y1="570.70" x2="488.95" y2="570.70" stroke="#222" stroke-width="1.1" stroke-linecap="butt"/>
<line x1="482.45" y1="589.50" x2="488.95" y2="589.50" stroke="#222" stroke-width="1.1" stroke-linecap="butt"/>
<line x1="511.65" y1="593.90" x2="511.65" y2="610.90" stroke="#222" stroke-width="1.1" stroke-linecap="butt"/>
<line x1="508.40" y1="593.90" x2="514.90" y2="593.90" stroke="#222" stroke-width="1.1" stroke-linecap="butt"/>
<line x1="508.40" y1="610.90" x2="514.90" y2="610.90" stroke="#222" stroke-width="1.1" stroke-linecap="butt"/>
<line x1="537.60" y1="594.70" x2="537.60" y2="611.90" stroke="#222" stroke-width="1.1" stroke-linecap="butt"/>
<line x1="534.35" y1="594.70" x2="540.85" y2="594.70" stroke="#222" stroke-width="1.1" stroke-linecap="butt"/>
<line x1="534.35" y1="611.90" x2="540.85" y2="611.90" stroke="#222" stroke-width="1.1" stroke-linecap="butt"/>
<line x1="563.55" y1="596.40" x2="563.55" y2="613.20" stroke="#222" stroke-width="1.1" stroke-linecap="butt"/>
<line x1="560.30" y1="596.40" x2="566.80" y2="596.40" stroke="#222" stroke-width="1.1" stroke-linecap="butt"/>
<line x1="560.30" y1="613.20" x2="566.80" y2="613.20" stroke="#222" stroke-width="1.1" stroke-linecap="butt"/>
<line x1="589.50" y1="599.20" x2="589.50" y2="615.20" stroke="#222" stroke-width="1.1" stroke-linecap="butt"/>
<line x1="586.25" y1="599.20" x2="592.75" y2="599.20" stroke="#222" stroke-width="1.1" stroke-linecap="butt"/>
<line x1="586.25" y1="615.20" x2="592.75" y2="615.20" stroke="#222" stroke-width="1.1" stroke-linecap="butt"/>
<line x1="615.45" y1="600.70" x2="615.45" y2="616.70" stroke="#222" stroke-width="1.1" stroke-linecap="butt"/>
<line x1="612.20" y1="600.70" x2="618.70" y2="600.70" stroke="#222" stroke-width="1.1" stroke-linecap="butt"/>
<line x1="612.20" y1="616.70" x2="618.70" y2="616.70" stroke="#222" stroke-width="1.1" stroke-linecap="butt"/>
<line x1="381.90" y1="569.10" x2="381.90" y2="577.90" stroke="#222" stroke-width="1.1" stroke-linecap="butt"/>
<line x1="378.65" y1="569.10" x2="385.15" y2="569.10" stroke="#222" stroke-width="1.1" stroke-linecap="butt"/>
<line x1="378.65" y1="577.90" x2="385.15" y2="577.90" stroke="#222" stroke-width="1.1" stroke-linecap="butt"/>
<line x1="407.85" y1="573.60" x2="407.85" y2="580.40" stroke="#222" stroke-width="1.1" stroke-linecap="butt"/>
<line x1="404.60" y1="573.60" x2="411.10" y2="573.60" stroke="#222" stroke-width="1.1" stroke-linecap="butt"/>
<line x1="404.60" y1="580.40" x2="411.10" y2="580.40" stroke="#222" stroke-width="1.1" stroke-linecap="butt"/>
<line x1="433.80" y1="586.90" x2="433.80" y2="594.50" stroke="#222" stroke-width="1.1" stroke-linecap="butt"/>
<line x1="430.55" y1="586.90" x2="437.05" y2="586.90" stroke="#222" stroke-width="1.1" stroke-linecap="butt"/>
<line x1="430.55" y1="594.50" x2="437.05" y2="594.50" stroke="#222" stroke-width="1.1" stroke-linecap="butt"/>
<line x1="459.75" y1="589.20" x2="459.75" y2="598.40" stroke="#222" stroke-width="1.1" stroke-linecap="butt"/>
<line x1="456.50" y1="589.20" x2="463.00" y2="589.20" stroke="#222" stroke-width="1.1" stroke-linecap="butt"/>
<line x1="456.50" y1="598.40" x2="463.00" y2="598.40" stroke="#222" stroke-width="1.1" stroke-linecap="butt"/>
<line x1="485.70" y1="591.20" x2="485.70" y2="601.60" stroke="#222" stroke-width="1.1" stroke-linecap="butt"/>
<line x1="482.45" y1="591.20" x2="488.95" y2="591.20" stroke="#222" stroke-width="1.1" stroke-linecap="butt"/>
<line x1="482.45" y1="601.60" x2="488.95" y2="601.60" stroke="#222" stroke-width="1.1" stroke-linecap="butt"/>
<line x1="511.65" y1="610.20" x2="511.65" y2="625.20" stroke="#222" stroke-width="1.1" stroke-linecap="butt"/>
<line x1="508.40" y1="610.20" x2="514.90" y2="610.20" stroke="#222" stroke-width="1.1" stroke-linecap="butt"/>
<line x1="508.40" y1="625.20" x2="514.90" y2="625.20" stroke="#222" stroke-width="1.1" stroke-linecap="butt"/>
<line x1="537.60" y1="609.50" x2="537.60" y2="625.90" stroke="#222" stroke-width="1.1" stroke-linecap="butt"/>
<line x1="534.35" y1="609.50" x2="540.85" y2="609.50" stroke="#222" stroke-width="1.1" stroke-linecap="butt"/>
<line x1="534.35" y1="625.90" x2="540.85" y2="625.90" stroke="#222" stroke-width="1.1" stroke-linecap="butt"/>
<line x1="563.55" y1="612.40" x2="563.55" y2="628.40" stroke="#222" stroke-width="1.1" stroke-linecap="butt"/>
<line x1="560.30" y1="612.40" x2="566.80" y2="612.40" stroke="#222" stroke-width="1.1" stroke-linecap="butt"/>
<line x1="560.30" y1="628.40" x2="566.80" y2="628.40" stroke="#222" stroke-width="1.1" stroke-linecap="butt"/>
<line x1="589.50" y1="613.50" x2="589.50" y2="629.10" stroke="#222" stroke-width="1.1" stroke-linecap="butt"/>
<line x1="586.25" y1="613.50" x2="592.75" y2="613.50" stroke="#222" stroke-width="1.1" stroke-linecap="butt"/>
<line x1="586.25" y1="629.10" x2="592.75" y2="629.10" stroke="#222" stroke-width="1.1" stroke-linecap="butt"/>
<line x1="615.45" y1="614.50" x2="615.45" y2="631.10" stroke="#222" stroke-width="1.1" stroke-linecap="butt"/>
<line x1="612.20" y1="614.50" x2="618.70" y2="614.50" stroke="#222" stroke-width="1.1" stroke-linecap="butt"/>
<line x1="612.20" y1="631.10" x2="618.70" y2="631.10" stroke="#222" stroke-width="1.1" stroke-linecap="butt"/>
<rect x="379.00" y="552.00" width="5.8" height="5.8" fill="#0c8743" stroke="#1a1a1a" stroke-width="0.9"/>
<rect x="404.95" y="554.10" width="5.8" height="5.8" fill="#0c8743" stroke="#1a1a1a" stroke-width="0.9"/>
<rect x="430.90" y="570.00" width="5.8" height="5.8" fill="#0c8743" stroke="#1a1a1a" stroke-width="0.9"/>
<rect x="456.85" y="574.50" width="5.8" height="5.8" fill="#0c8743" stroke="#1a1a1a" stroke-width="0.9"/>
<rect x="482.80" y="577.20" width="5.8" height="5.8" fill="#0c8743" stroke="#1a1a1a" stroke-width="0.9"/>
<rect x="508.75" y="599.50" width="5.8" height="5.8" fill="#0c8743" stroke="#1a1a1a" stroke-width="0.9"/>
<rect x="534.70" y="600.40" width="5.8" height="5.8" fill="#0c8743" stroke="#1a1a1a" stroke-width="0.9"/>
<rect x="560.65" y="601.90" width="5.8" height="5.8" fill="#0c8743" stroke="#1a1a1a" stroke-width="0.9"/>
<rect x="586.60" y="604.30" width="5.8" height="5.8" fill="#0c8743" stroke="#1a1a1a" stroke-width="0.9"/>
<rect x="612.55" y="605.80" width="5.8" height="5.8" fill="#0c8743" stroke="#1a1a1a" stroke-width="0.9"/>
<circle cx="381.90" cy="573.50" r="3.2" fill="#f5973a" stroke="#1a1a1a" stroke-width="0.9"/>
<circle cx="407.85" cy="577.00" r="3.2" fill="#f5973a" stroke="#1a1a1a" stroke-width="0.9"/>
<circle cx="433.80" cy="590.70" r="3.2" fill="#f5973a" stroke="#1a1a1a" stroke-width="0.9"/>
<circle cx="459.75" cy="593.80" r="3.2" fill="#f5973a" stroke="#1a1a1a" stroke-width="0.9"/>
<circle cx="485.70" cy="596.40" r="3.2" fill="#f5973a" stroke="#1a1a1a" stroke-width="0.9"/>
<circle cx="511.65" cy="617.70" r="3.2" fill="#f5973a" stroke="#1a1a1a" stroke-width="0.9"/>
<circle cx="537.60" cy="617.70" r="3.2" fill="#f5973a" stroke="#1a1a1a" stroke-width="0.9"/>
<circle cx="563.55" cy="620.40" r="3.2" fill="#f5973a" stroke="#1a1a1a" stroke-width="0.9"/>
<circle cx="589.50" cy="621.30" r="3.2" fill="#f5973a" stroke="#1a1a1a" stroke-width="0.9"/>
<circle cx="615.45" cy="622.80" r="3.2" fill="#f5973a" stroke="#1a1a1a" stroke-width="0.9"/>
<text x="632.00" y="688.60" font-size="13.8" text-anchor="start">(min)</text>
<text transform="translate(330.50,593.50) rotate(-90)" font-size="13.8" text-anchor="middle">OCR (pMoles O<tspan dy="3" font-size="10.5">2/</tspan><tspan dy="-3">min/µg protein)</tspan></text>
<text x="0.80" y="256.50" font-size="24.5" text-anchor="start" font-weight="bold">C</text>
<line x1="80.20" y1="281.80" x2="80.20" y2="407.50" stroke="#111" stroke-width="2.2" stroke-linecap="butt"/>
<line x1="73.20" y1="282.90" x2="80.20" y2="282.90" stroke="#111" stroke-width="2.2" stroke-linecap="butt"/>
<text transform="translate(71.70,287.80) scale(1,1.08)" font-size="13" text-anchor="end">20</text>
<line x1="73.20" y1="313.80" x2="80.20" y2="313.80" stroke="#111" stroke-width="2.2" stroke-linecap="butt"/>
<text transform="translate(71.70,318.70) scale(1,1.08)" font-size="13" text-anchor="end">15</text>
<line x1="73.20" y1="344.70" x2="80.20" y2="344.70" stroke="#111" stroke-width="2.2" stroke-linecap="butt"/>
<text transform="translate(71.70,349.60) scale(1,1.08)" font-size="13" text-anchor="end">10</text>
<line x1="73.20" y1="375.60" x2="80.20" y2="375.60" stroke="#111" stroke-width="2.2" stroke-linecap="butt"/>
<text transform="translate(71.70,380.50) scale(1,1.08)" font-size="13" text-anchor="end">5</text>
<line x1="73.20" y1="406.50" x2="80.20" y2="406.50" stroke="#111" stroke-width="2.2" stroke-linecap="butt"/>
<text transform="translate(71.70,411.40) scale(1,1.08)" font-size="13" text-anchor="end">0</text>
<line x1="79.20" y1="406.50" x2="264.80" y2="406.50" stroke="#111" stroke-width="2.2" stroke-linecap="butt"/>
<line x1="108.20" y1="406.50" x2="108.20" y2="412.50" stroke="#111" stroke-width="2.2" stroke-linecap="butt"/>
<line x1="172.40" y1="406.50" x2="172.40" y2="412.50" stroke="#111" stroke-width="2.2" stroke-linecap="butt"/>
<line x1="236.40" y1="406.50" x2="236.40" y2="412.50" stroke="#111" stroke-width="2.2" stroke-linecap="butt"/>
<rect x="89.03" y="344.77" width="13.95" height="61.73" fill="#fff" stroke="#111" stroke-width="1.75"/>
<rect x="113.23" y="320.07" width="13.95" height="86.43" fill="#fff" stroke="#111" stroke-width="1.75"/>
<rect x="153.43" y="370.88" width="13.95" height="35.62" fill="#fff" stroke="#111" stroke-width="1.75"/>
<rect x="177.43" y="359.98" width="13.95" height="46.52" fill="#fff" stroke="#111" stroke-width="1.75"/>
<rect x="217.53" y="398.38" width="13.95" height="8.12" fill="#fff" stroke="#111" stroke-width="1.75"/>
<rect x="242.03" y="392.18" width="13.95" height="14.32" fill="#fff" stroke="#111" stroke-width="1.75"/>
<line x1="96.00" y1="338.80" x2="96.00" y2="348.30" stroke="#222" stroke-width="1.2" stroke-linecap="butt"/>
<line x1="92.50" y1="338.80" x2="99.50" y2="338.80" stroke="#222" stroke-width="1.2" stroke-linecap="butt"/>
<line x1="92.50" y1="348.30" x2="99.50" y2="348.30" stroke="#222" stroke-width="1.2" stroke-linecap="butt"/>
<line x1="120.20" y1="313.30" x2="120.20" y2="324.20" stroke="#555" stroke-width="1.2" stroke-linecap="butt"/>
<line x1="116.70" y1="313.30" x2="123.70" y2="313.30" stroke="#555" stroke-width="1.2" stroke-linecap="butt"/>
<line x1="116.70" y1="324.20" x2="123.70" y2="324.20" stroke="#555" stroke-width="1.2" stroke-linecap="butt"/>
<line x1="160.40" y1="367.00" x2="160.40" y2="372.50" stroke="#222" stroke-width="1.2" stroke-linecap="butt"/>
<line x1="156.90" y1="367.00" x2="163.90" y2="367.00" stroke="#222" stroke-width="1.2" stroke-linecap="butt"/>
<line x1="156.90" y1="372.50" x2="163.90" y2="372.50" stroke="#222" stroke-width="1.2" stroke-linecap="butt"/>
<line x1="184.40" y1="356.50" x2="184.40" y2="361.50" stroke="#222" stroke-width="1.2" stroke-linecap="butt"/>
<line x1="180.90" y1="356.50" x2="187.90" y2="356.50" stroke="#222" stroke-width="1.2" stroke-linecap="butt"/>
<line x1="180.90" y1="361.50" x2="187.90" y2="361.50" stroke="#222" stroke-width="1.2" stroke-linecap="butt"/>
<line x1="224.50" y1="396.00" x2="224.50" y2="399.00" stroke="#222" stroke-width="1.2" stroke-linecap="butt"/>
<line x1="221.50" y1="396.00" x2="227.50" y2="396.00" stroke="#222" stroke-width="1.2" stroke-linecap="butt"/>
<line x1="221.50" y1="399.00" x2="227.50" y2="399.00" stroke="#222" stroke-width="1.2" stroke-linecap="butt"/>
<line x1="249.00" y1="389.00" x2="249.00" y2="393.50" stroke="#222" stroke-width="1.2" stroke-linecap="butt"/>
<line x1="246.00" y1="389.00" x2="252.00" y2="389.00" stroke="#222" stroke-width="1.2" stroke-linecap="butt"/>
<line x1="246.00" y1="393.50" x2="252.00" y2="393.50" stroke="#222" stroke-width="1.2" stroke-linecap="butt"/>
<circle cx="96.00" cy="325.70" r="2.45" fill="#f5973a" stroke="#1a1a1a" stroke-width="0.8"/>
<circle cx="96.00" cy="340.30" r="2.45" fill="#f5973a" stroke="#1a1a1a" stroke-width="0.8"/>
<circle cx="96.00" cy="345.70" r="2.45" fill="#f5973a" stroke="#1a1a1a" stroke-width="0.8"/>
<circle cx="90.40" cy="352.70" r="2.45" fill="#f5973a" stroke="#1a1a1a" stroke-width="0.8"/>
<circle cx="101.40" cy="352.00" r="2.45" fill="#f5973a" stroke="#1a1a1a" stroke-width="0.8"/>
<circle cx="160.40" cy="361.30" r="2.45" fill="#f5973a" stroke="#1a1a1a" stroke-width="0.8"/>
<circle cx="158.20" cy="369.60" r="2.45" fill="#f5973a" stroke="#1a1a1a" stroke-width="0.8"/>
<circle cx="166.00" cy="369.60" r="2.45" fill="#f5973a" stroke="#1a1a1a" stroke-width="0.8"/>
<circle cx="154.60" cy="373.70" r="2.45" fill="#f5973a" stroke="#1a1a1a" stroke-width="0.8"/>
<circle cx="162.20" cy="372.70" r="2.45" fill="#f5973a" stroke="#1a1a1a" stroke-width="0.8"/>
<circle cx="218.70" cy="396.80" r="2.45" fill="#f5973a" stroke="#1a1a1a" stroke-width="0.8"/>
<circle cx="221.80" cy="395.60" r="2.45" fill="#f5973a" stroke="#1a1a1a" stroke-width="0.8"/>
<circle cx="224.50" cy="396.80" r="2.45" fill="#f5973a" stroke="#1a1a1a" stroke-width="0.8"/>
<circle cx="227.70" cy="395.60" r="2.45" fill="#f5973a" stroke="#1a1a1a" stroke-width="0.8"/>
<circle cx="230.10" cy="399.80" r="2.45" fill="#f5973a" stroke="#1a1a1a" stroke-width="0.8"/>
<rect x="112.40" y="304.30" width="4.8" height="4.8" fill="#0c8743" stroke="#1a1a1a" stroke-width="0.8"/>
<rect x="123.40" y="306.80" width="4.8" height="4.8" fill="#0c8743" stroke="#1a1a1a" stroke-width="0.8"/>
<rect x="118.00" y="313.10" width="4.8" height="4.8" fill="#0c8743" stroke="#1a1a1a" stroke-width="0.8"/>
<rect x="112.40" y="331.30" width="4.8" height="4.8" fill="#0c8743" stroke="#1a1a1a" stroke-width="0.8"/>
<rect x="123.40" y="328.70" width="4.8" height="4.8" fill="#0c8743" stroke="#1a1a1a" stroke-width="0.8"/>
<rect x="176.70" y="349.40" width="4.8" height="4.8" fill="#0c8743" stroke="#1a1a1a" stroke-width="0.8"/>
<rect x="187.70" y="349.90" width="4.8" height="4.8" fill="#0c8743" stroke="#1a1a1a" stroke-width="0.8"/>
<rect x="182.10" y="355.30" width="4.8" height="4.8" fill="#0c8743" stroke="#1a1a1a" stroke-width="0.8"/>
<rect x="176.70" y="361.80" width="4.8" height="4.8" fill="#0c8743" stroke="#1a1a1a" stroke-width="0.8"/>
<rect x="187.70" y="361.40" width="4.8" height="4.8" fill="#0c8743" stroke="#1a1a1a" stroke-width="0.8"/>
<rect x="246.40" y="381.90" width="4.8" height="4.8" fill="#0c8743" stroke="#1a1a1a" stroke-width="0.8"/>
<rect x="240.80" y="393.60" width="4.8" height="4.8" fill="#0c8743" stroke="#1a1a1a" stroke-width="0.8"/>
<rect x="244.70" y="391.20" width="4.8" height="4.8" fill="#0c8743" stroke="#1a1a1a" stroke-width="0.8"/>
<rect x="247.80" y="391.20" width="4.8" height="4.8" fill="#0c8743" stroke="#1a1a1a" stroke-width="0.8"/>
<rect x="251.70" y="391.20" width="4.8" height="4.8" fill="#0c8743" stroke="#1a1a1a" stroke-width="0.8"/>
<polyline points="95.10,295.50 95.10,289.80 120.40,289.80 120.40,298.70" fill="none" stroke="#111" stroke-width="1.7"/>
<polyline points="160.00,344.50 160.00,338.70 184.50,338.70 184.50,344.50" fill="none" stroke="#111" stroke-width="1.7"/>
<polyline points="225.10,376.10 225.10,370.70 248.80,370.70 248.80,376.10" fill="none" stroke="#111" stroke-width="1.7"/>
<text x="106.70" y="281.90" font-size="11.3" text-anchor="middle">0.0116</text>
<text x="173.10" y="329.90" font-size="11.3" text-anchor="middle">0.0118</text>
<text x="237.00" y="362.10" font-size="11.3" text-anchor="middle">0.0238</text>
<circle cx="214.20" cy="281.70" r="2.5" fill="#f5973a" stroke="#1a1a1a" stroke-width="0.8"/>
<rect x="211.80" y="295.30" width="4.8" height="4.8" fill="#0c8743" stroke="#1a1a1a" stroke-width="0.8"/>
<text x="228.80" y="285.80" font-size="11.5" text-anchor="start">ShCtrl</text>
<text x="228.80" y="301.80" font-size="11.5" text-anchor="start">Sh<tspan font-style="italic">Opa1</tspan></text>
<text transform="translate(35.00,344.00) rotate(-90)" font-size="13.4" text-anchor="middle">Mitochondrial OCR</text>
<text transform="translate(49.80,344.00) rotate(-90)" font-size="13" text-anchor="middle">(pMoles O<tspan dy="3" font-size="9.5">2/</tspan><tspan dy="-3">min/µg protein)</tspan></text>
<text transform="translate(110.50,423.30) rotate(-45)" font-size="13.4" text-anchor="end">Basal</text>
<text transform="translate(175.00,423.30) rotate(-45)" font-size="13.4" text-anchor="end">Glucose</text>
<text transform="translate(239.00,423.30) rotate(-45)" font-size="13.4" text-anchor="end">Oligomycin</text>
<text x="309.50" y="256.80" font-size="24.5" text-anchor="start" font-weight="bold">D</text>
<line x1="365.50" y1="279.20" x2="365.50" y2="404.00" stroke="#111" stroke-width="2.2" stroke-linecap="butt"/>
<line x1="359.00" y1="280.30" x2="365.50" y2="280.30" stroke="#111" stroke-width="2.2" stroke-linecap="butt"/>
<text transform="translate(357.30,284.70) scale(1,1.08)" font-size="11.3" text-anchor="end">200</text>
<line x1="359.00" y1="310.98" x2="365.50" y2="310.98" stroke="#111" stroke-width="2.2" stroke-linecap="butt"/>
<text transform="translate(357.30,315.38) scale(1,1.08)" font-size="11.3" text-anchor="end">150</text>
<line x1="359.00" y1="341.65" x2="365.50" y2="341.65" stroke="#111" stroke-width="2.2" stroke-linecap="butt"/>
<text transform="translate(357.30,346.05) scale(1,1.08)" font-size="11.3" text-anchor="end">100</text>
<line x1="359.00" y1="372.32" x2="365.50" y2="372.32" stroke="#111" stroke-width="2.2" stroke-linecap="butt"/>
<text transform="translate(357.30,376.72) scale(1,1.08)" font-size="11.3" text-anchor="end">50</text>
<line x1="359.00" y1="403.00" x2="365.50" y2="403.00" stroke="#111" stroke-width="2.2" stroke-linecap="butt"/>
<text transform="translate(357.30,407.40) scale(1,1.08)" font-size="11.3" text-anchor="end">0</text>
<line x1="364.50" y1="403.00" x2="685.00" y2="403.00" stroke="#111" stroke-width="2.2" stroke-linecap="butt"/>
<line x1="379.10" y1="403.00" x2="379.10" y2="409.50" stroke="#111" stroke-width="2.2" stroke-linecap="butt"/>
<line x1="399.20" y1="403.00" x2="399.20" y2="409.50" stroke="#111" stroke-width="2.2" stroke-linecap="butt"/>
<line x1="433.50" y1="403.00" x2="433.50" y2="409.50" stroke="#111" stroke-width="2.2" stroke-linecap="butt"/>
<line x1="453.80" y1="403.00" x2="453.80" y2="409.50" stroke="#111" stroke-width="2.2" stroke-linecap="butt"/>
<line x1="487.80" y1="403.00" x2="487.80" y2="409.50" stroke="#111" stroke-width="2.2" stroke-linecap="butt"/>
<line x1="508.20" y1="403.00" x2="508.20" y2="409.50" stroke="#111" stroke-width="2.2" stroke-linecap="butt"/>
<line x1="541.80" y1="403.00" x2="541.80" y2="409.50" stroke="#111" stroke-width="2.2" stroke-linecap="butt"/>
<line x1="562.20" y1="403.00" x2="562.20" y2="409.50" stroke="#111" stroke-width="2.2" stroke-linecap="butt"/>
<line x1="595.70" y1="403.00" x2="595.70" y2="409.50" stroke="#111" stroke-width="2.2" stroke-linecap="butt"/>
<line x1="616.30" y1="403.00" x2="616.30" y2="409.50" stroke="#111" stroke-width="2.2" stroke-linecap="butt"/>
<line x1="650.30" y1="403.00" x2="650.30" y2="409.50" stroke="#111" stroke-width="2.2" stroke-linecap="butt"/>
<line x1="670.60" y1="403.00" x2="670.60" y2="409.50" stroke="#111" stroke-width="2.2" stroke-linecap="butt"/>
<rect x="373.07" y="373.82" width="12.05" height="29.18" fill="#fff" stroke="#111" stroke-width="1.65"/>
<rect x="393.17" y="379.62" width="12.05" height="23.37" fill="#fff" stroke="#111" stroke-width="1.65"/>
<rect x="427.47" y="366.82" width="12.05" height="36.17" fill="#fff" stroke="#111" stroke-width="1.65"/>
<rect x="447.77" y="368.82" width="12.05" height="34.17" fill="#fff" stroke="#111" stroke-width="1.65"/>
<rect x="481.77" y="349.02" width="12.05" height="53.98" fill="#fff" stroke="#111" stroke-width="1.65"/>
<rect x="502.17" y="389.12" width="12.05" height="13.87" fill="#fff" stroke="#111" stroke-width="1.65"/>
<rect x="535.77" y="327.32" width="12.05" height="75.67" fill="#fff" stroke="#111" stroke-width="1.65"/>
<rect x="556.18" y="391.52" width="12.05" height="11.48" fill="#fff" stroke="#111" stroke-width="1.65"/>
<rect x="589.68" y="337.52" width="12.05" height="65.48" fill="#fff" stroke="#111" stroke-width="1.65"/>
<rect x="644.27" y="316.82" width="12.05" height="86.17" fill="#fff" stroke="#111" stroke-width="1.65"/>
<line x1="487.80" y1="324.80" x2="487.80" y2="366.40" stroke="#222" stroke-width="1.2" stroke-linecap="butt"/>
<line x1="484.30" y1="324.80" x2="491.30" y2="324.80" stroke="#222" stroke-width="1.2" stroke-linecap="butt"/>
<line x1="484.30" y1="366.40" x2="491.30" y2="366.40" stroke="#222" stroke-width="1.2" stroke-linecap="butt"/>
<line x1="508.20" y1="384.00" x2="508.20" y2="392.60" stroke="#222" stroke-width="1.2" stroke-linecap="butt"/>
<line x1="504.70" y1="384.00" x2="511.70" y2="384.00" stroke="#222" stroke-width="1.2" stroke-linecap="butt"/>
<line x1="504.70" y1="392.60" x2="511.70" y2="392.60" stroke="#222" stroke-width="1.2" stroke-linecap="butt"/>
<line x1="541.80" y1="319.20" x2="541.80" y2="333.80" stroke="#222" stroke-width="1.2" stroke-linecap="butt"/>
<line x1="538.30" y1="319.20" x2="545.30" y2="319.20" stroke="#222" stroke-width="1.2" stroke-linecap="butt"/>
<line x1="538.30" y1="333.80" x2="545.30" y2="333.80" stroke="#222" stroke-width="1.2" stroke-linecap="butt"/>
<line x1="562.20" y1="383.70" x2="562.20" y2="397.60" stroke="#222" stroke-width="1.2" stroke-linecap="butt"/>
<line x1="558.70" y1="383.70" x2="565.70" y2="383.70" stroke="#222" stroke-width="1.2" stroke-linecap="butt"/>
<line x1="558.70" y1="397.60" x2="565.70" y2="397.60" stroke="#222" stroke-width="1.2" stroke-linecap="butt"/>
<line x1="379.10" y1="369.00" x2="379.10" y2="377.00" stroke="#222" stroke-width="1.2" stroke-linecap="butt"/>
<line x1="375.60" y1="369.00" x2="382.60" y2="369.00" stroke="#222" stroke-width="1.2" stroke-linecap="butt"/>
<line x1="375.60" y1="377.00" x2="382.60" y2="377.00" stroke="#222" stroke-width="1.2" stroke-linecap="butt"/>
<line x1="399.20" y1="374.00" x2="399.20" y2="383.50" stroke="#222" stroke-width="1.2" stroke-linecap="butt"/>
<line x1="395.70" y1="374.00" x2="402.70" y2="374.00" stroke="#222" stroke-width="1.2" stroke-linecap="butt"/>
<line x1="395.70" y1="383.50" x2="402.70" y2="383.50" stroke="#222" stroke-width="1.2" stroke-linecap="butt"/>
<line x1="595.70" y1="333.50" x2="595.70" y2="340.00" stroke="#222" stroke-width="1.2" stroke-linecap="butt"/>
<line x1="592.20" y1="333.50" x2="599.20" y2="333.50" stroke="#222" stroke-width="1.2" stroke-linecap="butt"/>
<line x1="592.20" y1="340.00" x2="599.20" y2="340.00" stroke="#222" stroke-width="1.2" stroke-linecap="butt"/>
<line x1="650.30" y1="313.50" x2="650.30" y2="318.50" stroke="#222" stroke-width="1.2" stroke-linecap="butt"/>
<line x1="646.80" y1="313.50" x2="653.80" y2="313.50" stroke="#222" stroke-width="1.2" stroke-linecap="butt"/>
<line x1="646.80" y1="318.50" x2="653.80" y2="318.50" stroke="#222" stroke-width="1.2" stroke-linecap="butt"/>
<circle cx="375.70" cy="369.30" r="3.0" fill="#f5973a" stroke="#1a1a1a" stroke-width="0.8"/>
<circle cx="382.80" cy="367.40" r="3.0" fill="#f5973a" stroke="#1a1a1a" stroke-width="0.8"/>
<circle cx="379.60" cy="371.80" r="3.0" fill="#f5973a" stroke="#1a1a1a" stroke-width="0.8"/>
<circle cx="375.70" cy="377.80" r="3.0" fill="#f5973a" stroke="#1a1a1a" stroke-width="0.8"/>
<circle cx="382.80" cy="375.20" r="3.0" fill="#f5973a" stroke="#1a1a1a" stroke-width="0.8"/>
<circle cx="395.70" cy="369.60" r="3.0" fill="#f5973a" stroke="#1a1a1a" stroke-width="0.8"/>
<circle cx="403.40" cy="375.20" r="3.0" fill="#f5973a" stroke="#1a1a1a" stroke-width="0.8"/>
<circle cx="398.60" cy="378.80" r="3.0" fill="#f5973a" stroke="#1a1a1a" stroke-width="0.8"/>
<circle cx="395.70" cy="382.50" r="3.0" fill="#f5973a" stroke="#1a1a1a" stroke-width="0.8"/>
<circle cx="403.40" cy="381.00" r="3.0" fill="#f5973a" stroke="#1a1a1a" stroke-width="0.8"/>
<circle cx="487.40" cy="312.70" r="3.0" fill="#f5973a" stroke="#1a1a1a" stroke-width="0.8"/>
<circle cx="483.80" cy="346.40" r="3.0" fill="#f5973a" stroke="#1a1a1a" stroke-width="0.8"/>
<circle cx="491.50" cy="347.20" r="3.0" fill="#f5973a" stroke="#1a1a1a" stroke-width="0.8"/>
<circle cx="487.40" cy="352.30" r="3.0" fill="#f5973a" stroke="#1a1a1a" stroke-width="0.8"/>
<circle cx="487.40" cy="369.80" r="3.0" fill="#f5973a" stroke="#1a1a1a" stroke-width="0.8"/>
<circle cx="504.40" cy="381.00" r="3.0" fill="#f5973a" stroke="#1a1a1a" stroke-width="0.8"/>
<circle cx="507.30" cy="386.40" r="3.0" fill="#f5973a" stroke="#1a1a1a" stroke-width="0.8"/>
<circle cx="512.00" cy="388.30" r="3.0" fill="#f5973a" stroke="#1a1a1a" stroke-width="0.8"/>
<circle cx="503.90" cy="392.00" r="3.0" fill="#f5973a" stroke="#1a1a1a" stroke-width="0.8"/>
<circle cx="509.30" cy="390.50" r="3.0" fill="#f5973a" stroke="#1a1a1a" stroke-width="0.8"/>
<circle cx="592.60" cy="330.10" r="3.0" fill="#f5973a" stroke="#1a1a1a" stroke-width="0.8"/>
<circle cx="600.00" cy="332.80" r="3.0" fill="#f5973a" stroke="#1a1a1a" stroke-width="0.8"/>
<circle cx="595.90" cy="335.00" r="3.0" fill="#f5973a" stroke="#1a1a1a" stroke-width="0.8"/>
<circle cx="592.60" cy="339.60" r="3.0" fill="#f5973a" stroke="#1a1a1a" stroke-width="0.8"/>
<circle cx="600.00" cy="339.60" r="3.0" fill="#f5973a" stroke="#1a1a1a" stroke-width="0.8"/>
<circle cx="613.50" cy="402.80" r="3.0" fill="#f5973a" stroke="#1a1a1a" stroke-width="0.8"/>
<circle cx="616.50" cy="402.80" r="3.0" fill="#f5973a" stroke="#1a1a1a" stroke-width="0.8"/>
<circle cx="619.50" cy="402.80" r="3.0" fill="#f5973a" stroke="#1a1a1a" stroke-width="0.8"/>
<circle cx="622.00" cy="402.80" r="3.0" fill="#f5973a" stroke="#1a1a1a" stroke-width="0.8"/>
<rect x="426.50" y="358.00" width="6.0" height="6.0" fill="#0c8743" stroke="#1a1a1a" stroke-width="0.8"/>
<rect x="434.20" y="359.00" width="6.0" height="6.0" fill="#0c8743" stroke="#1a1a1a" stroke-width="0.8"/>
<rect x="430.40" y="363.40" width="6.0" height="6.0" fill="#0c8743" stroke="#1a1a1a" stroke-width="0.8"/>
<rect x="426.50" y="366.80" width="6.0" height="6.0" fill="#0c8743" stroke="#1a1a1a" stroke-width="0.8"/>
<rect x="434.20" y="366.80" width="6.0" height="6.0" fill="#0c8743" stroke="#1a1a1a" stroke-width="0.8"/>
<rect x="448.80" y="358.00" width="6.0" height="6.0" fill="#0c8743" stroke="#1a1a1a" stroke-width="0.8"/>
<rect x="452.80" y="361.00" width="6.0" height="6.0" fill="#0c8743" stroke="#1a1a1a" stroke-width="0.8"/>
<rect x="450.60" y="366.30" width="6.0" height="6.0" fill="#0c8743" stroke="#1a1a1a" stroke-width="0.8"/>
<rect x="446.60" y="370.00" width="6.0" height="6.0" fill="#0c8743" stroke="#1a1a1a" stroke-width="0.8"/>
<rect x="454.70" y="369.60" width="6.0" height="6.0" fill="#0c8743" stroke="#1a1a1a" stroke-width="0.8"/>
<rect x="538.90" y="311.10" width="6.0" height="6.0" fill="#0c8743" stroke="#1a1a1a" stroke-width="0.8"/>
<rect x="535.20" y="323.50" width="6.0" height="6.0" fill="#0c8743" stroke="#1a1a1a" stroke-width="0.8"/>
<rect x="542.50" y="326.40" width="6.0" height="6.0" fill="#0c8743" stroke="#1a1a1a" stroke-width="0.8"/>
<rect x="535.20" y="330.80" width="6.0" height="6.0" fill="#0c8743" stroke="#1a1a1a" stroke-width="0.8"/>
<rect x="539.60" y="325.70" width="6.0" height="6.0" fill="#0c8743" stroke="#1a1a1a" stroke-width="0.8"/>
<rect x="558.60" y="379.70" width="6.0" height="6.0" fill="#0c8743" stroke="#1a1a1a" stroke-width="0.8"/>
<rect x="563.70" y="381.20" width="6.0" height="6.0" fill="#0c8743" stroke="#1a1a1a" stroke-width="0.8"/>
<rect x="555.70" y="385.10" width="6.0" height="6.0" fill="#0c8743" stroke="#1a1a1a" stroke-width="0.8"/>
<rect x="560.80" y="386.30" width="6.0" height="6.0" fill="#0c8743" stroke="#1a1a1a" stroke-width="0.8"/>
<rect x="644.40" y="311.10" width="6.0" height="6.0" fill="#0c8743" stroke="#1a1a1a" stroke-width="0.8"/>
<rect x="647.90" y="310.30" width="6.0" height="6.0" fill="#0c8743" stroke="#1a1a1a" stroke-width="0.8"/>
<rect x="651.10" y="314.70" width="6.0" height="6.0" fill="#0c8743" stroke="#1a1a1a" stroke-width="0.8"/>
<rect x="664.80" y="399.30" width="6.0" height="6.0" fill="#0c8743" stroke="#1a1a1a" stroke-width="0.8"/>
<rect x="667.20" y="398.50" width="6.0" height="6.0" fill="#0c8743" stroke="#1a1a1a" stroke-width="0.8"/>
<rect x="672.10" y="399.80" width="6.0" height="6.0" fill="#0c8743" stroke="#1a1a1a" stroke-width="0.8"/>
<polyline points="596.10,293.50 596.10,286.40 650.90,286.40 650.90,293.50" fill="none" stroke="#111" stroke-width="1.7"/>
<text x="623.30" y="276.60" font-size="11.3" text-anchor="middle">&lt;0.0001</text>
<circle cx="378.40" cy="286.50" r="3.2" fill="#f5973a" stroke="#1a1a1a" stroke-width="0.8"/>
<rect x="375.30" y="301.90" width="6.2" height="6.2" fill="#0c8743" stroke="#1a1a1a" stroke-width="0.8"/>
<text x="392.70" y="290.40" font-size="11.5" text-anchor="start">ShCtrl</text>
<text x="392.70" y="309.10" font-size="11.5" text-anchor="start">Sh<tspan font-style="italic">Opa1</tspan></text>
<text transform="translate(382.30,418.80) rotate(-45)" font-size="11.6" text-anchor="end">Glyc</text>
<text transform="translate(402.40,418.80) rotate(-45)" font-size="11.6" text-anchor="end">OX</text>
<text transform="translate(436.70,418.80) rotate(-45)" font-size="11.6" text-anchor="end">Glyc</text>
<text transform="translate(457.00,418.80) rotate(-45)" font-size="11.6" text-anchor="end">OX</text>
<text transform="translate(491.00,418.80) rotate(-45)" font-size="11.6" text-anchor="end">Glyc</text>
<text transform="translate(511.40,418.80) rotate(-45)" font-size="11.6" text-anchor="end">OX</text>
<text transform="translate(545.00,418.80) rotate(-45)" font-size="11.6" text-anchor="end">Glyc</text>
<text transform="translate(565.40,418.80) rotate(-45)" font-size="11.6" text-anchor="end">OX</text>
<text transform="translate(598.90,418.80) rotate(-45)" font-size="11.6" text-anchor="end">Glyc</text>
<text transform="translate(619.50,418.80) rotate(-45)" font-size="11.6" text-anchor="end">OX</text>
<text transform="translate(653.50,418.80) rotate(-45)" font-size="11.6" text-anchor="end">Glyc</text>
<text transform="translate(673.80,418.80) rotate(-45)" font-size="11.6" text-anchor="end">OX</text>
<line x1="368.20" y1="442.60" x2="461.00" y2="442.60" stroke="#111" stroke-width="1.8" stroke-linecap="butt"/>
<line x1="479.10" y1="442.60" x2="572.10" y2="442.60" stroke="#111" stroke-width="1.8" stroke-linecap="butt"/>
<line x1="583.30" y1="442.60" x2="675.80" y2="442.60" stroke="#111" stroke-width="1.8" stroke-linecap="butt"/>
<text x="416.60" y="458.30" font-size="11.5" text-anchor="middle">Basal (no Gluc)</text>
<text x="523.70" y="458.10" font-size="11.6" text-anchor="middle">Basal + Gluc</text>
<text x="628.00" y="458.30" font-size="11.5" text-anchor="middle">Basal + Gluc + Oligo</text>
<text transform="translate(331.40,360.80) rotate(-90)" font-size="13.4" text-anchor="middle"><tspan dy="-3.8">J</tspan><tspan dy="3.8">ATP(pmol ATP/min/µg protein)</tspan></text>
<text x="0.20" y="738.00" font-size="24.5" text-anchor="start" font-weight="bold">G</text>
<line x1="73.50" y1="743.00" x2="73.50" y2="930.00" stroke="#111" stroke-width="2.2" stroke-linecap="butt"/>
<line x1="66.50" y1="743.98" x2="73.50" y2="743.98" stroke="#111" stroke-width="2.2" stroke-linecap="butt"/>
<text transform="translate(65.00,748.98) scale(1,1.08)" font-size="13" text-anchor="end">400</text>
<line x1="66.50" y1="790.21" x2="73.50" y2="790.21" stroke="#111" stroke-width="2.2" stroke-linecap="butt"/>
<text transform="translate(65.00,795.21) scale(1,1.08)" font-size="13" text-anchor="end">300</text>
<line x1="66.50" y1="836.44" x2="73.50" y2="836.44" stroke="#111" stroke-width="2.2" stroke-linecap="butt"/>
<text transform="translate(65.00,841.44) scale(1,1.08)" font-size="13" text-anchor="end">200</text>
<line x1="66.50" y1="882.67" x2="73.50" y2="882.67" stroke="#111" stroke-width="2.2" stroke-linecap="butt"/>
<text transform="translate(65.00,887.67) scale(1,1.08)" font-size="13" text-anchor="end">100</text>
<line x1="66.50" y1="928.90" x2="73.50" y2="928.90" stroke="#111" stroke-width="2.2" stroke-linecap="butt"/>
<text transform="translate(65.00,933.90) scale(1,1.08)" font-size="13" text-anchor="end">0</text>
<line x1="72.50" y1="928.90" x2="257.80" y2="928.90" stroke="#111" stroke-width="2.2" stroke-linecap="butt"/>
<line x1="90.60" y1="928.90" x2="90.60" y2="935.50" stroke="#111" stroke-width="2.2" stroke-linecap="butt"/>
<line x1="117.00" y1="928.90" x2="117.00" y2="935.50" stroke="#111" stroke-width="2.2" stroke-linecap="butt"/>
<line x1="143.40" y1="928.90" x2="143.40" y2="935.50" stroke="#111" stroke-width="2.2" stroke-linecap="butt"/>
<line x1="187.30" y1="928.90" x2="187.30" y2="935.50" stroke="#111" stroke-width="2.2" stroke-linecap="butt"/>
<line x1="213.80" y1="928.90" x2="213.80" y2="935.50" stroke="#111" stroke-width="2.2" stroke-linecap="butt"/>
<line x1="240.20" y1="928.90" x2="240.20" y2="935.50" stroke="#111" stroke-width="2.2" stroke-linecap="butt"/>
<rect x="83.20" y="884.50" width="14.80" height="44.40" fill="#fff" stroke="#111" stroke-width="2.2"/>
<rect x="109.60" y="816.60" width="14.80" height="112.30" fill="#fff" stroke="#111" stroke-width="2.2"/>
<rect x="136.00" y="838.20" width="14.80" height="90.70" fill="#fff" stroke="#111" stroke-width="2.2"/>
<rect x="179.90" y="879.10" width="14.80" height="49.80" fill="#fff" stroke="#111" stroke-width="2.2"/>
<rect x="206.40" y="807.20" width="14.80" height="121.70" fill="#fff" stroke="#111" stroke-width="2.2"/>
<rect x="232.80" y="834.80" width="14.80" height="94.10" fill="#fff" stroke="#111" stroke-width="2.2"/>
<line x1="90.60" y1="876.00" x2="90.60" y2="890.00" stroke="#222" stroke-width="2" stroke-linecap="butt"/>
<line x1="85.60" y1="876.00" x2="95.60" y2="876.00" stroke="#222" stroke-width="2" stroke-linecap="butt"/>
<line x1="85.60" y1="890.00" x2="95.60" y2="890.00" stroke="#222" stroke-width="2" stroke-linecap="butt"/>
<line x1="117.00" y1="797.40" x2="117.00" y2="832.60" stroke="#222" stroke-width="2" stroke-linecap="butt"/>
<line x1="112.00" y1="797.40" x2="122.00" y2="797.40" stroke="#222" stroke-width="2" stroke-linecap="butt"/>
<line x1="112.00" y1="832.60" x2="122.00" y2="832.60" stroke="#222" stroke-width="2" stroke-linecap="butt"/>
<line x1="143.40" y1="822.60" x2="143.40" y2="850.40" stroke="#222" stroke-width="2" stroke-linecap="butt"/>
<line x1="138.40" y1="822.60" x2="148.40" y2="822.60" stroke="#222" stroke-width="2" stroke-linecap="butt"/>
<line x1="138.40" y1="850.40" x2="148.40" y2="850.40" stroke="#222" stroke-width="2" stroke-linecap="butt"/>
<line x1="187.30" y1="868.30" x2="187.30" y2="886.00" stroke="#222" stroke-width="2" stroke-linecap="butt"/>
<line x1="182.30" y1="868.30" x2="192.30" y2="868.30" stroke="#222" stroke-width="2" stroke-linecap="butt"/>
<line x1="182.30" y1="886.00" x2="192.30" y2="886.00" stroke="#222" stroke-width="2" stroke-linecap="butt"/>
<line x1="213.80" y1="789.30" x2="213.80" y2="822.20" stroke="#222" stroke-width="2" stroke-linecap="butt"/>
<line x1="208.80" y1="789.30" x2="218.80" y2="789.30" stroke="#222" stroke-width="2" stroke-linecap="butt"/>
<line x1="208.80" y1="822.20" x2="218.80" y2="822.20" stroke="#222" stroke-width="2" stroke-linecap="butt"/>
<line x1="240.20" y1="821.60" x2="240.20" y2="844.30" stroke="#222" stroke-width="2" stroke-linecap="butt"/>
<line x1="235.20" y1="821.60" x2="245.20" y2="821.60" stroke="#222" stroke-width="2" stroke-linecap="butt"/>
<line x1="235.20" y1="844.30" x2="245.20" y2="844.30" stroke="#222" stroke-width="2" stroke-linecap="butt"/>
<circle cx="85.20" cy="872.90" r="3.1" fill="#f5973a" stroke="#1a1a1a" stroke-width="0.8"/>
<circle cx="96.30" cy="879.00" r="3.1" fill="#f5973a" stroke="#1a1a1a" stroke-width="0.8"/>
<circle cx="90.60" cy="896.10" r="3.1" fill="#f5973a" stroke="#1a1a1a" stroke-width="0.8"/>
<circle cx="117.40" cy="789.30" r="3.1" fill="#f5973a" stroke="#1a1a1a" stroke-width="0.8"/>
<circle cx="117.40" cy="805.50" r="3.1" fill="#f5973a" stroke="#1a1a1a" stroke-width="0.8"/>
<circle cx="117.40" cy="849.40" r="3.1" fill="#f5973a" stroke="#1a1a1a" stroke-width="0.8"/>
<circle cx="143.60" cy="817.50" r="3.1" fill="#f5973a" stroke="#1a1a1a" stroke-width="0.8"/>
<circle cx="143.60" cy="828.00" r="3.1" fill="#f5973a" stroke="#1a1a1a" stroke-width="0.8"/>
<circle cx="143.60" cy="863.30" r="3.1" fill="#f5973a" stroke="#1a1a1a" stroke-width="0.8"/>
<rect x="178.80" y="864.90" width="6.0" height="6.0" fill="#0c8743" stroke="#1a1a1a" stroke-width="0.8"/>
<rect x="190.30" y="865.90" width="6.0" height="6.0" fill="#0c8743" stroke="#1a1a1a" stroke-width="0.8"/>
<rect x="184.30" y="892.10" width="6.0" height="6.0" fill="#0c8743" stroke="#1a1a1a" stroke-width="0.8"/>
<rect x="211.00" y="782.70" width="6.0" height="6.0" fill="#0c8743" stroke="#1a1a1a" stroke-width="0.8"/>
<rect x="211.00" y="789.80" width="6.0" height="6.0" fill="#0c8743" stroke="#1a1a1a" stroke-width="0.8"/>
<rect x="211.00" y="835.70" width="6.0" height="6.0" fill="#0c8743" stroke="#1a1a1a" stroke-width="0.8"/>
<rect x="237.60" y="814.10" width="6.0" height="6.0" fill="#0c8743" stroke="#1a1a1a" stroke-width="0.8"/>
<rect x="237.60" y="824.20" width="6.0" height="6.0" fill="#0c8743" stroke="#1a1a1a" stroke-width="0.8"/>
<rect x="237.60" y="851.80" width="6.0" height="6.0" fill="#0c8743" stroke="#1a1a1a" stroke-width="0.8"/>
<line x1="84.60" y1="762.70" x2="250.30" y2="762.70" stroke="#111" stroke-width="2.2" stroke-linecap="butt"/>
<text x="167.60" y="747.70" font-size="13.8" text-anchor="middle">ns</text>
<circle cx="272.20" cy="753.10" r="3.2" fill="#f5973a" stroke="#1a1a1a" stroke-width="0.8"/>
<rect x="269.10" y="768.70" width="6.2" height="6.2" fill="#0c8743" stroke="#1a1a1a" stroke-width="0.8"/>
<text x="286.80" y="757.50" font-size="11.5" text-anchor="start">ShCtrl</text>
<text x="286.80" y="775.80" font-size="11.5" text-anchor="start">Sh<tspan font-style="italic">Opa1</tspan></text>
<text transform="translate(93.10,944.50) rotate(-45)" font-size="13.8" text-anchor="end">Glucose</text>
<text transform="translate(119.50,944.50) rotate(-45)" font-size="13.8" text-anchor="end">Rot/Myx</text>
<text transform="translate(145.90,944.50) rotate(-45)" font-size="13.8" text-anchor="end">Mon/FCCP</text>
<text transform="translate(189.80,944.50) rotate(-45)" font-size="13.8" text-anchor="end">Glucose</text>
<text transform="translate(216.30,944.50) rotate(-45)" font-size="13.8" text-anchor="end">Rot/Myx</text>
<text transform="translate(242.70,944.50) rotate(-45)" font-size="13.8" text-anchor="end">Mon/FCCP</text>
<text transform="translate(34.00,837.60) rotate(-90)" font-size="15" text-anchor="middle">PPR (mpH<tspan dy="3.6" font-size="10.5">/</tspan><tspan dy="-3.6">min/µg protein)</tspan></text>
</svg></body></html>
